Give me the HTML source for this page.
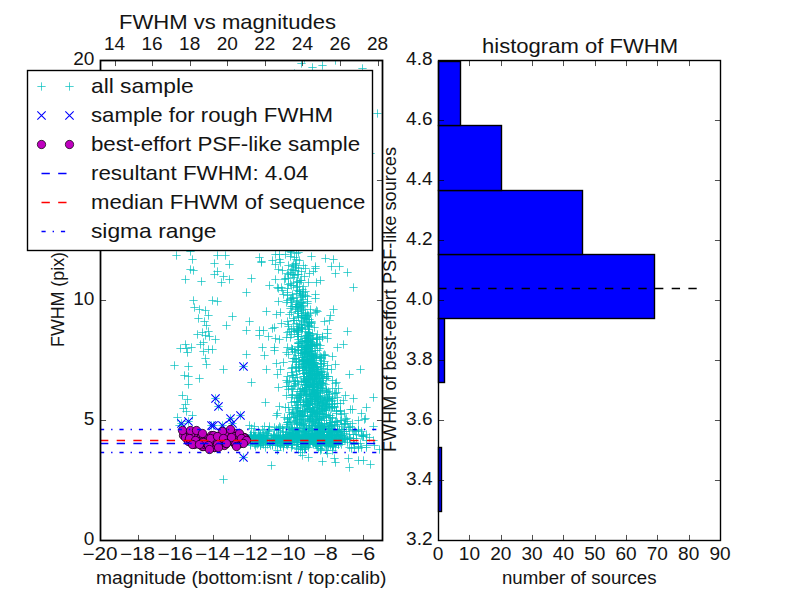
<!DOCTYPE html><html><head><meta charset="utf-8"><style>html,body{margin:0;padding:0;background:#fff;width:800px;height:600px;overflow:hidden}svg{display:block}text{font-family:"Liberation Sans",sans-serif;fill:#141414}</style></head><body>
<svg width="800" height="600" viewBox="0 0 800 600">
<rect x="0" y="0" width="800" height="600" fill="#fff"/>
<clipPath id="cl"><rect x="100.0" y="60.0" width="281.82" height="480.0"/></clipPath>
<g clip-path="url(#cl)">
<g stroke="#00bfbf" stroke-width="0.7" fill="none">
<path d="M172.33 255.5h8.34M176.5 251.33v8.34"/>
<path d="M188.33 259.5h8.34M192.5 255.33v8.34"/>
<path d="M186.33 251.5h8.34M190.5 247.33v8.34"/>
<path d="M213.33 255.5h8.34M217.5 251.33v8.34"/>
<path d="M221.33 255.5h8.34M225.5 251.33v8.34"/>
<path d="M210.33 263.5h8.34M214.5 259.33v8.34"/>
<path d="M225.33 264.5h8.34M229.5 260.33v8.34"/>
<path d="M255.33 257.5h8.34M259.5 253.33v8.34"/>
<path d="M257.33 261.5h8.34M261.5 257.33v8.34"/>
<path d="M271.33 254.5h8.34M275.5 250.33v8.34"/>
<path d="M268.33 260.5h8.34M272.5 256.33v8.34"/>
<path d="M271.33 264.5h8.34M275.5 260.33v8.34"/>
<path d="M274.33 269.5h8.34M278.5 265.33v8.34"/>
<path d="M186.33 269.5h8.34M190.5 265.33v8.34"/>
<path d="M189.33 270.5h8.34M193.5 266.33v8.34"/>
<path d="M181.33 279.5h8.34M185.5 275.33v8.34"/>
<path d="M197.33 281.5h8.34M201.5 277.33v8.34"/>
<path d="M210.33 274.5h8.34M214.5 270.33v8.34"/>
<path d="M213.33 271.5h8.34M217.5 267.33v8.34"/>
<path d="M219.33 276.5h8.34M223.5 272.33v8.34"/>
<path d="M225.33 279.5h8.34M229.5 275.33v8.34"/>
<path d="M217.33 282.5h8.34M221.5 278.33v8.34"/>
<path d="M247.33 278.5h8.34M251.5 274.33v8.34"/>
<path d="M242.33 292.5h8.34M246.5 288.33v8.34"/>
<path d="M271.33 279.5h8.34M275.5 275.33v8.34"/>
<path d="M274.33 288.5h8.34M278.5 284.33v8.34"/>
<path d="M189.33 300.5h8.34M193.5 296.33v8.34"/>
<path d="M208.33 300.5h8.34M212.5 296.33v8.34"/>
<path d="M213.33 301.5h8.34M217.5 297.33v8.34"/>
<path d="M190.33 307.5h8.34M194.5 303.33v8.34"/>
<path d="M195.33 309.5h8.34M199.5 305.33v8.34"/>
<path d="M201.33 310.5h8.34M205.5 306.33v8.34"/>
<path d="M204.33 315.5h8.34M208.5 311.33v8.34"/>
<path d="M194.33 318.5h8.34M198.5 314.33v8.34"/>
<path d="M200.33 321.5h8.34M204.5 317.33v8.34"/>
<path d="M202.33 325.5h8.34M206.5 321.33v8.34"/>
<path d="M228.33 316.5h8.34M232.5 312.33v8.34"/>
<path d="M222.33 325.5h8.34M226.5 321.33v8.34"/>
<path d="M245.33 321.5h8.34M249.5 317.33v8.34"/>
<path d="M262.33 311.5h8.34M266.5 307.33v8.34"/>
<path d="M272.33 314.5h8.34M276.5 310.33v8.34"/>
<path d="M270.33 327.5h8.34M274.5 323.33v8.34"/>
<path d="M193.33 334.5h8.34M197.5 330.33v8.34"/>
<path d="M198.33 332.5h8.34M202.5 328.33v8.34"/>
<path d="M201.33 335.5h8.34M205.5 331.33v8.34"/>
<path d="M204.33 331.5h8.34M208.5 327.33v8.34"/>
<path d="M205.33 336.5h8.34M209.5 332.33v8.34"/>
<path d="M211.33 339.5h8.34M215.5 335.33v8.34"/>
<path d="M242.33 330.5h8.34M246.5 326.33v8.34"/>
<path d="M255.33 330.5h8.34M259.5 326.33v8.34"/>
<path d="M255.33 335.5h8.34M259.5 331.33v8.34"/>
<path d="M264.33 336.5h8.34M268.5 332.33v8.34"/>
<path d="M271.33 338.5h8.34M275.5 334.33v8.34"/>
<path d="M270.33 347.5h8.34M274.5 343.33v8.34"/>
<path d="M258.33 347.5h8.34M262.5 343.33v8.34"/>
<path d="M260.33 355.5h8.34M264.5 351.33v8.34"/>
<path d="M242.33 354.5h8.34M246.5 350.33v8.34"/>
<path d="M176.33 348.5h8.34M180.5 344.33v8.34"/>
<path d="M181.33 344.5h8.34M185.5 340.33v8.34"/>
<path d="M182.33 348.5h8.34M186.5 344.33v8.34"/>
<path d="M187.33 347.5h8.34M191.5 343.33v8.34"/>
<path d="M183.33 352.5h8.34M187.5 348.33v8.34"/>
<path d="M196.33 344.5h8.34M200.5 340.33v8.34"/>
<path d="M199.33 342.5h8.34M203.5 338.33v8.34"/>
<path d="M199.33 351.5h8.34M203.5 347.33v8.34"/>
<path d="M204.33 349.5h8.34M208.5 345.33v8.34"/>
<path d="M208.33 349.5h8.34M212.5 345.33v8.34"/>
<path d="M201.33 358.5h8.34M205.5 354.33v8.34"/>
<path d="M202.33 364.5h8.34M206.5 360.33v8.34"/>
<path d="M170.33 365.5h8.34M174.5 361.33v8.34"/>
<path d="M184.33 366.5h8.34M188.5 362.33v8.34"/>
<path d="M219.33 369.5h8.34M223.5 365.33v8.34"/>
<path d="M262.33 369.5h8.34M266.5 365.33v8.34"/>
<path d="M273.33 374.5h8.34M277.5 370.33v8.34"/>
<path d="M180.33 375.5h8.34M184.5 371.33v8.34"/>
<path d="M184.33 376.5h8.34M188.5 372.33v8.34"/>
<path d="M195.33 378.5h8.34M199.5 374.33v8.34"/>
<path d="M184.33 384.5h8.34M188.5 380.33v8.34"/>
<path d="M247.33 382.5h8.34M251.5 378.33v8.34"/>
<path d="M178.33 395.5h8.34M182.5 391.33v8.34"/>
<path d="M183.33 399.5h8.34M187.5 395.33v8.34"/>
<path d="M181.33 404.5h8.34M185.5 400.33v8.34"/>
<path d="M261.33 402.5h8.34M265.5 398.33v8.34"/>
<path d="M274.33 387.5h8.34M278.5 383.33v8.34"/>
<path d="M179.33 408.5h8.34M183.5 404.33v8.34"/>
<path d="M182.33 411.5h8.34M186.5 407.33v8.34"/>
<path d="M173.33 417.5h8.34M177.5 413.33v8.34"/>
<path d="M188.33 415.5h8.34M192.5 411.33v8.34"/>
<path d="M321.33 258.5h8.34M325.5 254.33v8.34"/>
<path d="M329.33 259.5h8.34M333.5 255.33v8.34"/>
<path d="M327.33 266.5h8.34M331.5 262.33v8.34"/>
<path d="M335.33 266.5h8.34M339.5 262.33v8.34"/>
<path d="M331.33 273.5h8.34M335.5 269.33v8.34"/>
<path d="M343.33 272.5h8.34M347.5 268.33v8.34"/>
<path d="M349.33 287.5h8.34M353.5 283.33v8.34"/>
<path d="M311.33 266.5h8.34M315.5 262.33v8.34"/>
<path d="M309.33 271.5h8.34M313.5 267.33v8.34"/>
<path d="M312.33 282.5h8.34M316.5 278.33v8.34"/>
<path d="M311.33 294.5h8.34M315.5 290.33v8.34"/>
<path d="M311.33 298.5h8.34M315.5 294.33v8.34"/>
<path d="M329.33 309.5h8.34M333.5 305.33v8.34"/>
<path d="M326.33 315.5h8.34M330.5 311.33v8.34"/>
<path d="M320.33 321.5h8.34M324.5 317.33v8.34"/>
<path d="M311.33 312.5h8.34M315.5 308.33v8.34"/>
<path d="M297.33 63.5h8.34M301.5 59.33v8.34"/>
<path d="M308.33 67.5h8.34M312.5 63.33v8.34"/>
<path d="M318.33 65.5h8.34M322.5 61.33v8.34"/>
<path d="M358.33 68.5h8.34M362.5 64.33v8.34"/>
<path d="M290.33 73.5h8.34M294.5 69.33v8.34"/>
<path d="M300.33 58.5h8.34M304.5 54.33v8.34"/>
<path d="M331.33 60.5h8.34M335.5 56.33v8.34"/>
<path d="M373.33 113.5h8.34M377.5 109.33v8.34"/>
<path d="M366.33 153.5h8.34M370.5 149.33v8.34"/>
<path d="M343.33 331.5h8.34M347.5 327.33v8.34"/>
<path d="M339.33 344.5h8.34M343.5 340.33v8.34"/>
<path d="M333.33 347.5h8.34M337.5 343.33v8.34"/>
<path d="M331.33 364.5h8.34M335.5 360.33v8.34"/>
<path d="M356.33 369.5h8.34M360.5 365.33v8.34"/>
<path d="M331.33 383.5h8.34M335.5 379.33v8.34"/>
<path d="M369.33 397.5h8.34M373.5 393.33v8.34"/>
<path d="M362.33 407.5h8.34M366.5 403.33v8.34"/>
<path d="M349.33 398.5h8.34M353.5 394.33v8.34"/>
<path d="M341.33 395.5h8.34M345.5 391.33v8.34"/>
<path d="M323.33 338.5h8.34M327.5 334.33v8.34"/>
<path d="M323.33 329.5h8.34M327.5 325.33v8.34"/>
<path d="M324.33 376.5h8.34M328.5 372.33v8.34"/>
<path d="M279.33 362.5h8.34M283.5 358.33v8.34"/>
<path d="M281.33 407.5h8.34M285.5 403.33v8.34"/>
<path d="M267.33 465.5h8.34M271.5 461.33v8.34"/>
<path d="M219.33 479.5h8.34M223.5 475.33v8.34"/>
<path d="M318.33 461.5h8.34M322.5 457.33v8.34"/>
<path d="M330.33 458.5h8.34M334.5 454.33v8.34"/>
<path d="M331.33 462.5h8.34M335.5 458.33v8.34"/>
<path d="M345.33 467.5h8.34M349.5 463.33v8.34"/>
<path d="M366.33 464.5h8.34M370.5 460.33v8.34"/>
<path d="M354.33 460.5h8.34M358.5 456.33v8.34"/>
<path d="M298.33 455.5h8.34M302.5 451.33v8.34"/>
<path d="M304.33 457.5h8.34M308.5 453.33v8.34"/>
<path d="M344.33 458.5h8.34M348.5 454.33v8.34"/>
<path d="M369.33 426.5h8.34M373.5 422.33v8.34"/>
<path d="M354.33 420.5h8.34M358.5 416.33v8.34"/>
<path d="M348.33 409.5h8.34M352.5 405.33v8.34"/>
<path d="M357.33 447.5h8.34M361.5 443.33v8.34"/>
<path d="M362.33 445.5h8.34M366.5 441.33v8.34"/>
<path d="M370.33 445.5h8.34M374.5 441.33v8.34"/>
<path d="M369.33 440.5h8.34M373.5 436.33v8.34"/>
<path d="M245.33 425.5h8.34M249.5 421.33v8.34"/>
<path d="M250.33 426.5h8.34M254.5 422.33v8.34"/>
<path d="M260.33 426.5h8.34M264.5 422.33v8.34"/>
<path d="M265.33 426.5h8.34M269.5 422.33v8.34"/>
<path d="M273.33 413.5h8.34M277.5 409.33v8.34"/>
<path d="M275.33 254.5h8.34M279.5 250.33v8.34"/>
<path d="M278.33 270.5h8.34M282.5 266.33v8.34"/>
<path d="M278.33 290.5h8.34M282.5 286.33v8.34"/>
<path d="M284.33 265.5h8.34M288.5 261.33v8.34"/>
<path d="M288.33 266.5h8.34M292.5 262.33v8.34"/>
<path d="M292.33 259.5h8.34M296.5 255.33v8.34"/>
<path d="M294.33 252.5h8.34M298.5 248.33v8.34"/>
<path d="M299.33 265.5h8.34M303.5 261.33v8.34"/>
<path d="M301.33 268.5h8.34M305.5 264.33v8.34"/>
<path d="M297.33 271.5h8.34M301.5 267.33v8.34"/>
<path d="M291.33 270.5h8.34M295.5 266.33v8.34"/>
<path d="M288.33 274.5h8.34M292.5 270.33v8.34"/>
<path d="M293.33 274.5h8.34M297.5 270.33v8.34"/>
<path d="M281.33 278.5h8.34M285.5 274.33v8.34"/>
<path d="M292.33 282.5h8.34M296.5 278.33v8.34"/>
<path d="M296.33 280.5h8.34M300.5 276.33v8.34"/>
<path d="M289.33 285.5h8.34M293.5 281.33v8.34"/>
<path d="M292.33 287.5h8.34M296.5 283.33v8.34"/>
<path d="M299.33 286.5h8.34M303.5 282.33v8.34"/>
<path d="M304.33 282.5h8.34M308.5 278.33v8.34"/>
<path d="M305.33 273.5h8.34M309.5 269.33v8.34"/>
<path d="M283.33 292.5h8.34M287.5 288.33v8.34"/>
<path d="M288.33 294.5h8.34M292.5 290.33v8.34"/>
<path d="M292.33 293.5h8.34M296.5 289.33v8.34"/>
<path d="M296.33 295.5h8.34M300.5 291.33v8.34"/>
<path d="M301.33 295.5h8.34M305.5 291.33v8.34"/>
<path d="M282.33 302.5h8.34M286.5 298.33v8.34"/>
<path d="M287.33 298.5h8.34M291.5 294.33v8.34"/>
<path d="M293.33 300.5h8.34M297.5 296.33v8.34"/>
<path d="M298.33 302.5h8.34M302.5 298.33v8.34"/>
<path d="M293.33 306.5h8.34M297.5 302.33v8.34"/>
<path d="M288.33 306.5h8.34M292.5 302.33v8.34"/>
<path d="M303.33 303.5h8.34M307.5 299.33v8.34"/>
<path d="M287.33 252.5h8.34M291.5 248.33v8.34"/>
<path d="M276.33 312.5h8.34M280.5 308.33v8.34"/>
<path d="M306.33 309.5h8.34M310.5 305.33v8.34"/>
<path d="M277.33 323.5h8.34M281.5 319.33v8.34"/>
<path d="M259.33 330.5h8.34M263.5 326.33v8.34"/>
<path d="M275.33 339.5h8.34M279.5 335.33v8.34"/>
<path d="M318.33 336.5h8.34M322.5 332.33v8.34"/>
<path d="M270.33 350.5h8.34M274.5 346.33v8.34"/>
<path d="M283.33 347.5h8.34M287.5 343.33v8.34"/>
<path d="M316.33 345.5h8.34M320.5 341.33v8.34"/>
<path d="M317.33 357.5h8.34M321.5 353.33v8.34"/>
<path d="M320.33 361.5h8.34M324.5 357.33v8.34"/>
<path d="M361.33 418.5h8.34M365.5 414.33v8.34"/>
<path d="M359.33 460.5h8.34M363.5 456.33v8.34"/>
<path d="M375.33 449.5h8.34M379.5 445.33v8.34"/>
<path d="M359.33 436.5h8.34M363.5 432.33v8.34"/>
<path d="M175.33 425.5h8.34M179.5 421.33v8.34"/>
<path d="M286.33 251.5h8.34M290.5 247.33v8.34"/>
<path d="M292.33 253.5h8.34M296.5 249.33v8.34"/>
<path d="M281.33 254.5h8.34M285.5 250.33v8.34"/>
<path d="M286.33 256.5h8.34M290.5 252.33v8.34"/>
<path d="M307.33 256.5h8.34M311.5 252.33v8.34"/>
<path d="M290.33 257.5h8.34M294.5 253.33v8.34"/>
<path d="M275.33 259.5h8.34M279.5 255.33v8.34"/>
<path d="M295.33 260.5h8.34M299.5 256.33v8.34"/>
<path d="M276.33 262.5h8.34M280.5 258.33v8.34"/>
<path d="M257.33 262.5h8.34M261.5 258.33v8.34"/>
<path d="M291.33 263.5h8.34M295.5 259.33v8.34"/>
<path d="M289.33 264.5h8.34M293.5 260.33v8.34"/>
<path d="M291.33 265.5h8.34M295.5 261.33v8.34"/>
<path d="M292.33 267.5h8.34M296.5 263.33v8.34"/>
<path d="M294.33 268.5h8.34M298.5 264.33v8.34"/>
<path d="M311.33 268.5h8.34M315.5 264.33v8.34"/>
<path d="M287.33 269.5h8.34M291.5 265.33v8.34"/>
<path d="M289.33 270.5h8.34M293.5 266.33v8.34"/>
<path d="M286.33 272.5h8.34M290.5 268.33v8.34"/>
<path d="M283.33 273.5h8.34M287.5 269.33v8.34"/>
<path d="M284.33 274.5h8.34M288.5 270.33v8.34"/>
<path d="M294.33 274.5h8.34M298.5 270.33v8.34"/>
<path d="M290.33 275.5h8.34M294.5 271.33v8.34"/>
<path d="M300.33 276.5h8.34M304.5 272.33v8.34"/>
<path d="M289.33 277.5h8.34M293.5 273.33v8.34"/>
<path d="M284.33 278.5h8.34M288.5 274.33v8.34"/>
<path d="M280.33 279.5h8.34M284.5 275.33v8.34"/>
<path d="M297.33 280.5h8.34M301.5 276.33v8.34"/>
<path d="M316.33 280.5h8.34M320.5 276.33v8.34"/>
<path d="M293.33 281.5h8.34M297.5 277.33v8.34"/>
<path d="M295.33 282.5h8.34M299.5 278.33v8.34"/>
<path d="M286.33 283.5h8.34M290.5 279.33v8.34"/>
<path d="M284.33 284.5h8.34M288.5 280.33v8.34"/>
<path d="M287.33 285.5h8.34M291.5 281.33v8.34"/>
<path d="M265.33 285.5h8.34M269.5 281.33v8.34"/>
<path d="M293.33 286.5h8.34M297.5 282.33v8.34"/>
<path d="M277.33 287.5h8.34M281.5 283.33v8.34"/>
<path d="M273.33 287.5h8.34M277.5 283.33v8.34"/>
<path d="M283.33 288.5h8.34M287.5 284.33v8.34"/>
<path d="M298.33 289.5h8.34M302.5 285.33v8.34"/>
<path d="M293.33 290.5h8.34M297.5 286.33v8.34"/>
<path d="M295.33 291.5h8.34M299.5 287.33v8.34"/>
<path d="M295.33 291.5h8.34M299.5 287.33v8.34"/>
<path d="M301.33 291.5h8.34M305.5 287.33v8.34"/>
<path d="M299.33 292.5h8.34M303.5 288.33v8.34"/>
<path d="M296.33 293.5h8.34M300.5 289.33v8.34"/>
<path d="M298.33 294.5h8.34M302.5 290.33v8.34"/>
<path d="M279.33 294.5h8.34M283.5 290.33v8.34"/>
<path d="M283.33 295.5h8.34M287.5 291.33v8.34"/>
<path d="M303.33 296.5h8.34M307.5 292.33v8.34"/>
<path d="M298.33 296.5h8.34M302.5 292.33v8.34"/>
<path d="M297.33 297.5h8.34M301.5 293.33v8.34"/>
<path d="M288.33 297.5h8.34M292.5 293.33v8.34"/>
<path d="M289.33 298.5h8.34M293.5 294.33v8.34"/>
<path d="M286.33 299.5h8.34M290.5 295.33v8.34"/>
<path d="M299.33 299.5h8.34M303.5 295.33v8.34"/>
<path d="M283.33 300.5h8.34M287.5 296.33v8.34"/>
<path d="M292.33 301.5h8.34M296.5 297.33v8.34"/>
<path d="M303.33 301.5h8.34M307.5 297.33v8.34"/>
<path d="M274.33 301.5h8.34M278.5 297.33v8.34"/>
<path d="M287.33 302.5h8.34M291.5 298.33v8.34"/>
<path d="M297.33 302.5h8.34M301.5 298.33v8.34"/>
<path d="M296.33 303.5h8.34M300.5 299.33v8.34"/>
<path d="M294.33 304.5h8.34M298.5 300.33v8.34"/>
<path d="M292.33 304.5h8.34M296.5 300.33v8.34"/>
<path d="M295.33 305.5h8.34M299.5 301.33v8.34"/>
<path d="M299.33 305.5h8.34M303.5 301.33v8.34"/>
<path d="M298.33 306.5h8.34M302.5 302.33v8.34"/>
<path d="M291.33 306.5h8.34M295.5 302.33v8.34"/>
<path d="M287.33 306.5h8.34M291.5 302.33v8.34"/>
<path d="M292.33 307.5h8.34M296.5 303.33v8.34"/>
<path d="M297.33 307.5h8.34M301.5 303.33v8.34"/>
<path d="M286.33 308.5h8.34M290.5 304.33v8.34"/>
<path d="M296.33 308.5h8.34M300.5 304.33v8.34"/>
<path d="M291.33 309.5h8.34M295.5 305.33v8.34"/>
<path d="M299.33 309.5h8.34M303.5 305.33v8.34"/>
<path d="M312.33 310.5h8.34M316.5 306.33v8.34"/>
<path d="M297.33 310.5h8.34M301.5 306.33v8.34"/>
<path d="M293.33 311.5h8.34M297.5 307.33v8.34"/>
<path d="M294.33 311.5h8.34M298.5 307.33v8.34"/>
<path d="M313.33 311.5h8.34M317.5 307.33v8.34"/>
<path d="M287.33 312.5h8.34M291.5 308.33v8.34"/>
<path d="M301.33 312.5h8.34M305.5 308.33v8.34"/>
<path d="M306.33 313.5h8.34M310.5 309.33v8.34"/>
<path d="M293.33 313.5h8.34M297.5 309.33v8.34"/>
<path d="M299.33 313.5h8.34M303.5 309.33v8.34"/>
<path d="M303.33 314.5h8.34M307.5 310.33v8.34"/>
<path d="M285.33 314.5h8.34M289.5 310.33v8.34"/>
<path d="M297.33 315.5h8.34M301.5 311.33v8.34"/>
<path d="M304.33 315.5h8.34M308.5 311.33v8.34"/>
<path d="M301.33 315.5h8.34M305.5 311.33v8.34"/>
<path d="M298.33 315.5h8.34M302.5 311.33v8.34"/>
<path d="M303.33 316.5h8.34M307.5 312.33v8.34"/>
<path d="M294.33 316.5h8.34M298.5 312.33v8.34"/>
<path d="M302.33 317.5h8.34M306.5 313.33v8.34"/>
<path d="M294.33 317.5h8.34M298.5 313.33v8.34"/>
<path d="M297.33 317.5h8.34M301.5 313.33v8.34"/>
<path d="M301.33 318.5h8.34M305.5 314.33v8.34"/>
<path d="M300.33 318.5h8.34M304.5 314.33v8.34"/>
<path d="M289.33 318.5h8.34M293.5 314.33v8.34"/>
<path d="M305.33 319.5h8.34M309.5 315.33v8.34"/>
<path d="M302.33 319.5h8.34M306.5 315.33v8.34"/>
<path d="M297.33 320.5h8.34M301.5 316.33v8.34"/>
<path d="M289.33 320.5h8.34M293.5 316.33v8.34"/>
<path d="M290.33 320.5h8.34M294.5 316.33v8.34"/>
<path d="M325.33 320.5h8.34M329.5 316.33v8.34"/>
<path d="M283.33 321.5h8.34M287.5 317.33v8.34"/>
<path d="M307.33 321.5h8.34M311.5 317.33v8.34"/>
<path d="M299.33 321.5h8.34M303.5 317.33v8.34"/>
<path d="M300.33 322.5h8.34M304.5 318.33v8.34"/>
<path d="M305.33 322.5h8.34M309.5 318.33v8.34"/>
<path d="M307.33 322.5h8.34M311.5 318.33v8.34"/>
<path d="M292.33 323.5h8.34M296.5 319.33v8.34"/>
<path d="M304.33 323.5h8.34M308.5 319.33v8.34"/>
<path d="M307.33 323.5h8.34M311.5 319.33v8.34"/>
<path d="M295.33 324.5h8.34M299.5 320.33v8.34"/>
<path d="M284.33 324.5h8.34M288.5 320.33v8.34"/>
<path d="M303.33 324.5h8.34M307.5 320.33v8.34"/>
<path d="M297.33 324.5h8.34M301.5 320.33v8.34"/>
<path d="M303.33 325.5h8.34M307.5 321.33v8.34"/>
<path d="M297.33 325.5h8.34M301.5 321.33v8.34"/>
<path d="M305.33 325.5h8.34M309.5 321.33v8.34"/>
<path d="M293.33 326.5h8.34M297.5 322.33v8.34"/>
<path d="M304.33 326.5h8.34M308.5 322.33v8.34"/>
<path d="M284.33 326.5h8.34M288.5 322.33v8.34"/>
<path d="M305.33 326.5h8.34M309.5 322.33v8.34"/>
<path d="M297.33 327.5h8.34M301.5 323.33v8.34"/>
<path d="M298.33 327.5h8.34M302.5 323.33v8.34"/>
<path d="M310.33 327.5h8.34M314.5 323.33v8.34"/>
<path d="M298.33 328.5h8.34M302.5 324.33v8.34"/>
<path d="M297.33 328.5h8.34M301.5 324.33v8.34"/>
<path d="M289.33 328.5h8.34M293.5 324.33v8.34"/>
<path d="M268.33 328.5h8.34M272.5 324.33v8.34"/>
<path d="M294.33 329.5h8.34M298.5 325.33v8.34"/>
<path d="M298.33 329.5h8.34M302.5 325.33v8.34"/>
<path d="M304.33 329.5h8.34M308.5 325.33v8.34"/>
<path d="M287.33 329.5h8.34M291.5 325.33v8.34"/>
<path d="M294.33 330.5h8.34M298.5 326.33v8.34"/>
<path d="M292.33 330.5h8.34M296.5 326.33v8.34"/>
<path d="M293.33 330.5h8.34M297.5 326.33v8.34"/>
<path d="M290.33 331.5h8.34M294.5 327.33v8.34"/>
<path d="M301.33 331.5h8.34M305.5 327.33v8.34"/>
<path d="M294.33 331.5h8.34M298.5 327.33v8.34"/>
<path d="M285.33 331.5h8.34M289.5 327.33v8.34"/>
<path d="M283.33 332.5h8.34M287.5 328.33v8.34"/>
<path d="M293.33 332.5h8.34M297.5 328.33v8.34"/>
<path d="M304.33 332.5h8.34M308.5 328.33v8.34"/>
<path d="M304.33 332.5h8.34M308.5 328.33v8.34"/>
<path d="M308.33 333.5h8.34M312.5 329.33v8.34"/>
<path d="M304.33 333.5h8.34M308.5 329.33v8.34"/>
<path d="M305.33 333.5h8.34M309.5 329.33v8.34"/>
<path d="M323.33 333.5h8.34M327.5 329.33v8.34"/>
<path d="M313.33 334.5h8.34M317.5 330.33v8.34"/>
<path d="M287.33 334.5h8.34M291.5 330.33v8.34"/>
<path d="M293.33 334.5h8.34M297.5 330.33v8.34"/>
<path d="M304.33 334.5h8.34M308.5 330.33v8.34"/>
<path d="M303.33 335.5h8.34M307.5 331.33v8.34"/>
<path d="M306.33 335.5h8.34M310.5 331.33v8.34"/>
<path d="M302.33 335.5h8.34M306.5 331.33v8.34"/>
<path d="M305.33 335.5h8.34M309.5 331.33v8.34"/>
<path d="M293.33 336.5h8.34M297.5 332.33v8.34"/>
<path d="M297.33 336.5h8.34M301.5 332.33v8.34"/>
<path d="M294.33 336.5h8.34M298.5 332.33v8.34"/>
<path d="M294.33 336.5h8.34M298.5 332.33v8.34"/>
<path d="M304.33 336.5h8.34M308.5 332.33v8.34"/>
<path d="M282.33 337.5h8.34M286.5 333.33v8.34"/>
<path d="M312.33 337.5h8.34M316.5 333.33v8.34"/>
<path d="M303.33 337.5h8.34M307.5 333.33v8.34"/>
<path d="M286.33 337.5h8.34M290.5 333.33v8.34"/>
<path d="M318.33 337.5h8.34M322.5 333.33v8.34"/>
<path d="M309.33 338.5h8.34M313.5 334.33v8.34"/>
<path d="M313.33 338.5h8.34M317.5 334.33v8.34"/>
<path d="M302.33 338.5h8.34M306.5 334.33v8.34"/>
<path d="M301.33 338.5h8.34M305.5 334.33v8.34"/>
<path d="M315.33 339.5h8.34M319.5 335.33v8.34"/>
<path d="M308.33 339.5h8.34M312.5 335.33v8.34"/>
<path d="M312.33 339.5h8.34M316.5 335.33v8.34"/>
<path d="M307.33 339.5h8.34M311.5 335.33v8.34"/>
<path d="M294.33 339.5h8.34M298.5 335.33v8.34"/>
<path d="M302.33 340.5h8.34M306.5 336.33v8.34"/>
<path d="M300.33 340.5h8.34M304.5 336.33v8.34"/>
<path d="M304.33 340.5h8.34M308.5 336.33v8.34"/>
<path d="M304.33 340.5h8.34M308.5 336.33v8.34"/>
<path d="M303.33 341.5h8.34M307.5 337.33v8.34"/>
<path d="M298.33 341.5h8.34M302.5 337.33v8.34"/>
<path d="M306.33 341.5h8.34M310.5 337.33v8.34"/>
<path d="M296.33 341.5h8.34M300.5 337.33v8.34"/>
<path d="M301.33 341.5h8.34M305.5 337.33v8.34"/>
<path d="M301.33 341.5h8.34M305.5 337.33v8.34"/>
<path d="M302.33 342.5h8.34M306.5 338.33v8.34"/>
<path d="M304.33 342.5h8.34M308.5 338.33v8.34"/>
<path d="M308.33 342.5h8.34M312.5 338.33v8.34"/>
<path d="M304.33 342.5h8.34M308.5 338.33v8.34"/>
<path d="M294.33 342.5h8.34M298.5 338.33v8.34"/>
<path d="M294.33 343.5h8.34M298.5 339.33v8.34"/>
<path d="M306.33 343.5h8.34M310.5 339.33v8.34"/>
<path d="M294.33 343.5h8.34M298.5 339.33v8.34"/>
<path d="M312.33 343.5h8.34M316.5 339.33v8.34"/>
<path d="M295.33 343.5h8.34M299.5 339.33v8.34"/>
<path d="M305.33 344.5h8.34M309.5 340.33v8.34"/>
<path d="M312.33 344.5h8.34M316.5 340.33v8.34"/>
<path d="M306.33 344.5h8.34M310.5 340.33v8.34"/>
<path d="M313.33 344.5h8.34M317.5 340.33v8.34"/>
<path d="M308.33 344.5h8.34M312.5 340.33v8.34"/>
<path d="M300.33 345.5h8.34M304.5 341.33v8.34"/>
<path d="M307.33 345.5h8.34M311.5 341.33v8.34"/>
<path d="M306.33 345.5h8.34M310.5 341.33v8.34"/>
<path d="M308.33 345.5h8.34M312.5 341.33v8.34"/>
<path d="M310.33 345.5h8.34M314.5 341.33v8.34"/>
<path d="M297.33 345.5h8.34M301.5 341.33v8.34"/>
<path d="M299.33 346.5h8.34M303.5 342.33v8.34"/>
<path d="M308.33 346.5h8.34M312.5 342.33v8.34"/>
<path d="M293.33 346.5h8.34M297.5 342.33v8.34"/>
<path d="M303.33 346.5h8.34M307.5 342.33v8.34"/>
<path d="M307.33 346.5h8.34M311.5 342.33v8.34"/>
<path d="M302.33 347.5h8.34M306.5 343.33v8.34"/>
<path d="M303.33 347.5h8.34M307.5 343.33v8.34"/>
<path d="M302.33 347.5h8.34M306.5 343.33v8.34"/>
<path d="M294.33 347.5h8.34M298.5 343.33v8.34"/>
<path d="M297.33 347.5h8.34M301.5 343.33v8.34"/>
<path d="M298.33 347.5h8.34M302.5 343.33v8.34"/>
<path d="M287.33 348.5h8.34M291.5 344.33v8.34"/>
<path d="M306.33 348.5h8.34M310.5 344.33v8.34"/>
<path d="M301.33 348.5h8.34M305.5 344.33v8.34"/>
<path d="M315.33 348.5h8.34M319.5 344.33v8.34"/>
<path d="M306.33 348.5h8.34M310.5 344.33v8.34"/>
<path d="M300.33 349.5h8.34M304.5 345.33v8.34"/>
<path d="M288.33 349.5h8.34M292.5 345.33v8.34"/>
<path d="M288.33 349.5h8.34M292.5 345.33v8.34"/>
<path d="M301.33 349.5h8.34M305.5 345.33v8.34"/>
<path d="M288.33 349.5h8.34M292.5 345.33v8.34"/>
<path d="M294.33 349.5h8.34M298.5 345.33v8.34"/>
<path d="M302.33 349.5h8.34M306.5 345.33v8.34"/>
<path d="M304.33 350.5h8.34M308.5 346.33v8.34"/>
<path d="M313.33 350.5h8.34M317.5 346.33v8.34"/>
<path d="M311.33 350.5h8.34M315.5 346.33v8.34"/>
<path d="M294.33 350.5h8.34M298.5 346.33v8.34"/>
<path d="M294.33 350.5h8.34M298.5 346.33v8.34"/>
<path d="M306.33 351.5h8.34M310.5 347.33v8.34"/>
<path d="M290.33 351.5h8.34M294.5 347.33v8.34"/>
<path d="M301.33 351.5h8.34M305.5 347.33v8.34"/>
<path d="M300.33 351.5h8.34M304.5 347.33v8.34"/>
<path d="M307.33 351.5h8.34M311.5 347.33v8.34"/>
<path d="M305.33 351.5h8.34M309.5 347.33v8.34"/>
<path d="M301.33 352.5h8.34M305.5 348.33v8.34"/>
<path d="M282.33 352.5h8.34M286.5 348.33v8.34"/>
<path d="M291.33 352.5h8.34M295.5 348.33v8.34"/>
<path d="M304.33 352.5h8.34M308.5 348.33v8.34"/>
<path d="M300.33 352.5h8.34M304.5 348.33v8.34"/>
<path d="M300.33 352.5h8.34M304.5 348.33v8.34"/>
<path d="M302.33 352.5h8.34M306.5 348.33v8.34"/>
<path d="M296.33 353.5h8.34M300.5 349.33v8.34"/>
<path d="M308.33 353.5h8.34M312.5 349.33v8.34"/>
<path d="M305.33 353.5h8.34M309.5 349.33v8.34"/>
<path d="M300.33 353.5h8.34M304.5 349.33v8.34"/>
<path d="M297.33 353.5h8.34M301.5 349.33v8.34"/>
<path d="M299.33 353.5h8.34M303.5 349.33v8.34"/>
<path d="M303.33 354.5h8.34M307.5 350.33v8.34"/>
<path d="M320.33 354.5h8.34M324.5 350.33v8.34"/>
<path d="M300.33 354.5h8.34M304.5 350.33v8.34"/>
<path d="M311.33 354.5h8.34M315.5 350.33v8.34"/>
<path d="M284.33 354.5h8.34M288.5 350.33v8.34"/>
<path d="M307.33 354.5h8.34M311.5 350.33v8.34"/>
<path d="M321.33 355.5h8.34M325.5 351.33v8.34"/>
<path d="M309.33 355.5h8.34M313.5 351.33v8.34"/>
<path d="M310.33 355.5h8.34M314.5 351.33v8.34"/>
<path d="M307.33 355.5h8.34M311.5 351.33v8.34"/>
<path d="M294.33 355.5h8.34M298.5 351.33v8.34"/>
<path d="M305.33 355.5h8.34M309.5 351.33v8.34"/>
<path d="M319.33 355.5h8.34M323.5 351.33v8.34"/>
<path d="M312.33 356.5h8.34M316.5 352.33v8.34"/>
<path d="M303.33 356.5h8.34M307.5 352.33v8.34"/>
<path d="M307.33 356.5h8.34M311.5 352.33v8.34"/>
<path d="M308.33 356.5h8.34M312.5 352.33v8.34"/>
<path d="M316.33 356.5h8.34M320.5 352.33v8.34"/>
<path d="M303.33 356.5h8.34M307.5 352.33v8.34"/>
<path d="M328.33 356.5h8.34M332.5 352.33v8.34"/>
<path d="M298.33 357.5h8.34M302.5 353.33v8.34"/>
<path d="M298.33 357.5h8.34M302.5 353.33v8.34"/>
<path d="M309.33 357.5h8.34M313.5 353.33v8.34"/>
<path d="M298.33 357.5h8.34M302.5 353.33v8.34"/>
<path d="M309.33 357.5h8.34M313.5 353.33v8.34"/>
<path d="M315.33 357.5h8.34M319.5 353.33v8.34"/>
<path d="M312.33 358.5h8.34M316.5 354.33v8.34"/>
<path d="M303.33 358.5h8.34M307.5 354.33v8.34"/>
<path d="M309.33 358.5h8.34M313.5 354.33v8.34"/>
<path d="M289.33 358.5h8.34M293.5 354.33v8.34"/>
<path d="M317.33 358.5h8.34M321.5 354.33v8.34"/>
<path d="M291.33 358.5h8.34M295.5 354.33v8.34"/>
<path d="M290.33 358.5h8.34M294.5 354.33v8.34"/>
<path d="M303.33 359.5h8.34M307.5 355.33v8.34"/>
<path d="M301.33 359.5h8.34M305.5 355.33v8.34"/>
<path d="M304.33 359.5h8.34M308.5 355.33v8.34"/>
<path d="M292.33 359.5h8.34M296.5 355.33v8.34"/>
<path d="M307.33 359.5h8.34M311.5 355.33v8.34"/>
<path d="M302.33 359.5h8.34M306.5 355.33v8.34"/>
<path d="M299.33 359.5h8.34M303.5 355.33v8.34"/>
<path d="M316.33 360.5h8.34M320.5 356.33v8.34"/>
<path d="M300.33 360.5h8.34M304.5 356.33v8.34"/>
<path d="M298.33 360.5h8.34M302.5 356.33v8.34"/>
<path d="M306.33 360.5h8.34M310.5 356.33v8.34"/>
<path d="M308.33 360.5h8.34M312.5 356.33v8.34"/>
<path d="M298.33 360.5h8.34M302.5 356.33v8.34"/>
<path d="M304.33 360.5h8.34M308.5 356.33v8.34"/>
<path d="M299.33 361.5h8.34M303.5 357.33v8.34"/>
<path d="M305.33 361.5h8.34M309.5 357.33v8.34"/>
<path d="M302.33 361.5h8.34M306.5 357.33v8.34"/>
<path d="M307.33 361.5h8.34M311.5 357.33v8.34"/>
<path d="M288.33 361.5h8.34M292.5 357.33v8.34"/>
<path d="M297.33 361.5h8.34M301.5 357.33v8.34"/>
<path d="M295.33 361.5h8.34M299.5 357.33v8.34"/>
<path d="M309.33 362.5h8.34M313.5 358.33v8.34"/>
<path d="M310.33 362.5h8.34M314.5 358.33v8.34"/>
<path d="M306.33 362.5h8.34M310.5 358.33v8.34"/>
<path d="M292.33 362.5h8.34M296.5 358.33v8.34"/>
<path d="M304.33 362.5h8.34M308.5 358.33v8.34"/>
<path d="M303.33 362.5h8.34M307.5 358.33v8.34"/>
<path d="M310.33 362.5h8.34M314.5 358.33v8.34"/>
<path d="M319.33 363.5h8.34M323.5 359.33v8.34"/>
<path d="M299.33 363.5h8.34M303.5 359.33v8.34"/>
<path d="M317.33 363.5h8.34M321.5 359.33v8.34"/>
<path d="M307.33 363.5h8.34M311.5 359.33v8.34"/>
<path d="M304.33 363.5h8.34M308.5 359.33v8.34"/>
<path d="M304.33 363.5h8.34M308.5 359.33v8.34"/>
<path d="M311.33 363.5h8.34M315.5 359.33v8.34"/>
<path d="M272.33 363.5h8.34M276.5 359.33v8.34"/>
<path d="M308.33 364.5h8.34M312.5 360.33v8.34"/>
<path d="M307.33 364.5h8.34M311.5 360.33v8.34"/>
<path d="M316.33 364.5h8.34M320.5 360.33v8.34"/>
<path d="M299.33 364.5h8.34M303.5 360.33v8.34"/>
<path d="M294.33 364.5h8.34M298.5 360.33v8.34"/>
<path d="M307.33 364.5h8.34M311.5 360.33v8.34"/>
<path d="M306.33 364.5h8.34M310.5 360.33v8.34"/>
<path d="M323.33 365.5h8.34M327.5 361.33v8.34"/>
<path d="M309.33 365.5h8.34M313.5 361.33v8.34"/>
<path d="M309.33 365.5h8.34M313.5 361.33v8.34"/>
<path d="M307.33 365.5h8.34M311.5 361.33v8.34"/>
<path d="M306.33 365.5h8.34M310.5 361.33v8.34"/>
<path d="M300.33 365.5h8.34M304.5 361.33v8.34"/>
<path d="M308.33 365.5h8.34M312.5 361.33v8.34"/>
<path d="M301.33 366.5h8.34M305.5 362.33v8.34"/>
<path d="M313.33 366.5h8.34M317.5 362.33v8.34"/>
<path d="M311.33 366.5h8.34M315.5 362.33v8.34"/>
<path d="M298.33 366.5h8.34M302.5 362.33v8.34"/>
<path d="M317.33 366.5h8.34M321.5 362.33v8.34"/>
<path d="M301.33 366.5h8.34M305.5 362.33v8.34"/>
<path d="M292.33 366.5h8.34M296.5 362.33v8.34"/>
<path d="M305.33 367.5h8.34M309.5 363.33v8.34"/>
<path d="M295.33 367.5h8.34M299.5 363.33v8.34"/>
<path d="M288.33 367.5h8.34M292.5 363.33v8.34"/>
<path d="M300.33 367.5h8.34M304.5 363.33v8.34"/>
<path d="M312.33 367.5h8.34M316.5 363.33v8.34"/>
<path d="M309.33 367.5h8.34M313.5 363.33v8.34"/>
<path d="M291.33 367.5h8.34M295.5 363.33v8.34"/>
<path d="M312.33 367.5h8.34M316.5 363.33v8.34"/>
<path d="M302.33 367.5h8.34M306.5 363.33v8.34"/>
<path d="M307.33 368.5h8.34M311.5 364.33v8.34"/>
<path d="M319.33 368.5h8.34M323.5 364.33v8.34"/>
<path d="M299.33 368.5h8.34M303.5 364.33v8.34"/>
<path d="M305.33 368.5h8.34M309.5 364.33v8.34"/>
<path d="M294.33 368.5h8.34M298.5 364.33v8.34"/>
<path d="M287.33 368.5h8.34M291.5 364.33v8.34"/>
<path d="M310.33 368.5h8.34M314.5 364.33v8.34"/>
<path d="M327.33 369.5h8.34M331.5 365.33v8.34"/>
<path d="M313.33 369.5h8.34M317.5 365.33v8.34"/>
<path d="M308.33 369.5h8.34M312.5 365.33v8.34"/>
<path d="M302.33 369.5h8.34M306.5 365.33v8.34"/>
<path d="M276.33 369.5h8.34M280.5 365.33v8.34"/>
<path d="M313.33 369.5h8.34M317.5 365.33v8.34"/>
<path d="M323.33 369.5h8.34M327.5 365.33v8.34"/>
<path d="M301.33 370.5h8.34M305.5 366.33v8.34"/>
<path d="M298.33 370.5h8.34M302.5 366.33v8.34"/>
<path d="M305.33 370.5h8.34M309.5 366.33v8.34"/>
<path d="M306.33 370.5h8.34M310.5 366.33v8.34"/>
<path d="M309.33 370.5h8.34M313.5 366.33v8.34"/>
<path d="M304.33 370.5h8.34M308.5 366.33v8.34"/>
<path d="M295.33 370.5h8.34M299.5 366.33v8.34"/>
<path d="M318.33 371.5h8.34M322.5 367.33v8.34"/>
<path d="M314.33 371.5h8.34M318.5 367.33v8.34"/>
<path d="M308.33 371.5h8.34M312.5 367.33v8.34"/>
<path d="M308.33 371.5h8.34M312.5 367.33v8.34"/>
<path d="M313.33 371.5h8.34M317.5 367.33v8.34"/>
<path d="M292.33 371.5h8.34M296.5 367.33v8.34"/>
<path d="M314.33 371.5h8.34M318.5 367.33v8.34"/>
<path d="M308.33 371.5h8.34M312.5 367.33v8.34"/>
<path d="M307.33 371.5h8.34M311.5 367.33v8.34"/>
<path d="M305.33 372.5h8.34M309.5 368.33v8.34"/>
<path d="M287.33 372.5h8.34M291.5 368.33v8.34"/>
<path d="M317.33 372.5h8.34M321.5 368.33v8.34"/>
<path d="M302.33 372.5h8.34M306.5 368.33v8.34"/>
<path d="M302.33 372.5h8.34M306.5 368.33v8.34"/>
<path d="M312.33 372.5h8.34M316.5 368.33v8.34"/>
<path d="M316.33 372.5h8.34M320.5 368.33v8.34"/>
<path d="M299.33 373.5h8.34M303.5 369.33v8.34"/>
<path d="M306.33 373.5h8.34M310.5 369.33v8.34"/>
<path d="M315.33 373.5h8.34M319.5 369.33v8.34"/>
<path d="M300.33 373.5h8.34M304.5 369.33v8.34"/>
<path d="M310.33 373.5h8.34M314.5 369.33v8.34"/>
<path d="M311.33 373.5h8.34M315.5 369.33v8.34"/>
<path d="M303.33 373.5h8.34M307.5 369.33v8.34"/>
<path d="M312.33 373.5h8.34M316.5 369.33v8.34"/>
<path d="M292.33 374.5h8.34M296.5 370.33v8.34"/>
<path d="M302.33 374.5h8.34M306.5 370.33v8.34"/>
<path d="M313.33 374.5h8.34M317.5 370.33v8.34"/>
<path d="M310.33 374.5h8.34M314.5 370.33v8.34"/>
<path d="M320.33 374.5h8.34M324.5 370.33v8.34"/>
<path d="M317.33 374.5h8.34M321.5 370.33v8.34"/>
<path d="M308.33 374.5h8.34M312.5 370.33v8.34"/>
<path d="M345.33 374.5h8.34M349.5 370.33v8.34"/>
<path d="M288.33 375.5h8.34M292.5 371.33v8.34"/>
<path d="M315.33 375.5h8.34M319.5 371.33v8.34"/>
<path d="M312.33 375.5h8.34M316.5 371.33v8.34"/>
<path d="M307.33 375.5h8.34M311.5 371.33v8.34"/>
<path d="M315.33 375.5h8.34M319.5 371.33v8.34"/>
<path d="M306.33 375.5h8.34M310.5 371.33v8.34"/>
<path d="M288.33 375.5h8.34M292.5 371.33v8.34"/>
<path d="M310.33 375.5h8.34M314.5 371.33v8.34"/>
<path d="M299.33 376.5h8.34M303.5 372.33v8.34"/>
<path d="M305.33 376.5h8.34M309.5 372.33v8.34"/>
<path d="M300.33 376.5h8.34M304.5 372.33v8.34"/>
<path d="M317.33 376.5h8.34M321.5 372.33v8.34"/>
<path d="M322.33 376.5h8.34M326.5 372.33v8.34"/>
<path d="M283.33 376.5h8.34M287.5 372.33v8.34"/>
<path d="M323.33 376.5h8.34M327.5 372.33v8.34"/>
<path d="M311.33 376.5h8.34M315.5 372.33v8.34"/>
<path d="M293.33 377.5h8.34M297.5 373.33v8.34"/>
<path d="M289.33 377.5h8.34M293.5 373.33v8.34"/>
<path d="M309.33 377.5h8.34M313.5 373.33v8.34"/>
<path d="M314.33 377.5h8.34M318.5 373.33v8.34"/>
<path d="M308.33 377.5h8.34M312.5 373.33v8.34"/>
<path d="M318.33 377.5h8.34M322.5 373.33v8.34"/>
<path d="M304.33 377.5h8.34M308.5 373.33v8.34"/>
<path d="M313.33 378.5h8.34M317.5 374.33v8.34"/>
<path d="M299.33 378.5h8.34M303.5 374.33v8.34"/>
<path d="M310.33 378.5h8.34M314.5 374.33v8.34"/>
<path d="M305.33 378.5h8.34M309.5 374.33v8.34"/>
<path d="M308.33 378.5h8.34M312.5 374.33v8.34"/>
<path d="M315.33 378.5h8.34M319.5 374.33v8.34"/>
<path d="M306.33 378.5h8.34M310.5 374.33v8.34"/>
<path d="M319.33 378.5h8.34M323.5 374.33v8.34"/>
<path d="M322.33 378.5h8.34M326.5 374.33v8.34"/>
<path d="M307.33 379.5h8.34M311.5 375.33v8.34"/>
<path d="M304.33 379.5h8.34M308.5 375.33v8.34"/>
<path d="M312.33 379.5h8.34M316.5 375.33v8.34"/>
<path d="M310.33 379.5h8.34M314.5 375.33v8.34"/>
<path d="M308.33 379.5h8.34M312.5 375.33v8.34"/>
<path d="M304.33 379.5h8.34M308.5 375.33v8.34"/>
<path d="M303.33 379.5h8.34M307.5 375.33v8.34"/>
<path d="M300.33 379.5h8.34M304.5 375.33v8.34"/>
<path d="M311.33 380.5h8.34M315.5 376.33v8.34"/>
<path d="M302.33 380.5h8.34M306.5 376.33v8.34"/>
<path d="M318.33 380.5h8.34M322.5 376.33v8.34"/>
<path d="M328.33 380.5h8.34M332.5 376.33v8.34"/>
<path d="M282.33 380.5h8.34M286.5 376.33v8.34"/>
<path d="M306.33 380.5h8.34M310.5 376.33v8.34"/>
<path d="M300.33 380.5h8.34M304.5 376.33v8.34"/>
<path d="M291.33 380.5h8.34M295.5 376.33v8.34"/>
<path d="M315.33 381.5h8.34M319.5 377.33v8.34"/>
<path d="M301.33 381.5h8.34M305.5 377.33v8.34"/>
<path d="M308.33 381.5h8.34M312.5 377.33v8.34"/>
<path d="M293.33 381.5h8.34M297.5 377.33v8.34"/>
<path d="M290.33 381.5h8.34M294.5 377.33v8.34"/>
<path d="M299.33 381.5h8.34M303.5 377.33v8.34"/>
<path d="M315.33 381.5h8.34M319.5 377.33v8.34"/>
<path d="M285.33 381.5h8.34M289.5 377.33v8.34"/>
<path d="M301.33 381.5h8.34M305.5 377.33v8.34"/>
<path d="M316.33 382.5h8.34M320.5 378.33v8.34"/>
<path d="M283.33 382.5h8.34M287.5 378.33v8.34"/>
<path d="M332.33 382.5h8.34M336.5 378.33v8.34"/>
<path d="M297.33 382.5h8.34M301.5 378.33v8.34"/>
<path d="M316.33 382.5h8.34M320.5 378.33v8.34"/>
<path d="M302.33 382.5h8.34M306.5 378.33v8.34"/>
<path d="M309.33 382.5h8.34M313.5 378.33v8.34"/>
<path d="M302.33 382.5h8.34M306.5 378.33v8.34"/>
<path d="M291.33 383.5h8.34M295.5 379.33v8.34"/>
<path d="M318.33 383.5h8.34M322.5 379.33v8.34"/>
<path d="M309.33 383.5h8.34M313.5 379.33v8.34"/>
<path d="M317.33 383.5h8.34M321.5 379.33v8.34"/>
<path d="M312.33 383.5h8.34M316.5 379.33v8.34"/>
<path d="M312.33 383.5h8.34M316.5 379.33v8.34"/>
<path d="M319.33 383.5h8.34M323.5 379.33v8.34"/>
<path d="M310.33 383.5h8.34M314.5 379.33v8.34"/>
<path d="M310.33 384.5h8.34M314.5 380.33v8.34"/>
<path d="M303.33 384.5h8.34M307.5 380.33v8.34"/>
<path d="M301.33 384.5h8.34M305.5 380.33v8.34"/>
<path d="M301.33 384.5h8.34M305.5 380.33v8.34"/>
<path d="M294.33 384.5h8.34M298.5 380.33v8.34"/>
<path d="M314.33 384.5h8.34M318.5 380.33v8.34"/>
<path d="M321.33 384.5h8.34M325.5 380.33v8.34"/>
<path d="M309.33 384.5h8.34M313.5 380.33v8.34"/>
<path d="M310.33 384.5h8.34M314.5 380.33v8.34"/>
<path d="M290.33 385.5h8.34M294.5 381.33v8.34"/>
<path d="M303.33 385.5h8.34M307.5 381.33v8.34"/>
<path d="M308.33 385.5h8.34M312.5 381.33v8.34"/>
<path d="M317.33 385.5h8.34M321.5 381.33v8.34"/>
<path d="M313.33 385.5h8.34M317.5 381.33v8.34"/>
<path d="M305.33 385.5h8.34M309.5 381.33v8.34"/>
<path d="M304.33 385.5h8.34M308.5 381.33v8.34"/>
<path d="M304.33 385.5h8.34M308.5 381.33v8.34"/>
<path d="M307.33 386.5h8.34M311.5 382.33v8.34"/>
<path d="M313.33 386.5h8.34M317.5 382.33v8.34"/>
<path d="M306.33 386.5h8.34M310.5 382.33v8.34"/>
<path d="M305.33 386.5h8.34M309.5 382.33v8.34"/>
<path d="M289.33 386.5h8.34M293.5 382.33v8.34"/>
<path d="M282.33 386.5h8.34M286.5 382.33v8.34"/>
<path d="M309.33 386.5h8.34M313.5 382.33v8.34"/>
<path d="M313.33 386.5h8.34M317.5 382.33v8.34"/>
<path d="M284.33 386.5h8.34M288.5 382.33v8.34"/>
<path d="M308.33 387.5h8.34M312.5 383.33v8.34"/>
<path d="M302.33 387.5h8.34M306.5 383.33v8.34"/>
<path d="M310.33 387.5h8.34M314.5 383.33v8.34"/>
<path d="M302.33 387.5h8.34M306.5 383.33v8.34"/>
<path d="M310.33 387.5h8.34M314.5 383.33v8.34"/>
<path d="M316.33 387.5h8.34M320.5 383.33v8.34"/>
<path d="M314.33 387.5h8.34M318.5 383.33v8.34"/>
<path d="M309.33 387.5h8.34M313.5 383.33v8.34"/>
<path d="M298.33 388.5h8.34M302.5 384.33v8.34"/>
<path d="M287.33 388.5h8.34M291.5 384.33v8.34"/>
<path d="M318.33 388.5h8.34M322.5 384.33v8.34"/>
<path d="M316.33 388.5h8.34M320.5 384.33v8.34"/>
<path d="M317.33 388.5h8.34M321.5 384.33v8.34"/>
<path d="M298.33 388.5h8.34M302.5 384.33v8.34"/>
<path d="M334.33 388.5h8.34M338.5 384.33v8.34"/>
<path d="M328.33 388.5h8.34M332.5 384.33v8.34"/>
<path d="M312.33 388.5h8.34M316.5 384.33v8.34"/>
<path d="M300.33 389.5h8.34M304.5 385.33v8.34"/>
<path d="M296.33 389.5h8.34M300.5 385.33v8.34"/>
<path d="M322.33 389.5h8.34M326.5 385.33v8.34"/>
<path d="M308.33 389.5h8.34M312.5 385.33v8.34"/>
<path d="M305.33 389.5h8.34M309.5 385.33v8.34"/>
<path d="M288.33 389.5h8.34M292.5 385.33v8.34"/>
<path d="M284.33 389.5h8.34M288.5 385.33v8.34"/>
<path d="M308.33 389.5h8.34M312.5 385.33v8.34"/>
<path d="M309.33 389.5h8.34M313.5 385.33v8.34"/>
<path d="M300.33 390.5h8.34M304.5 386.33v8.34"/>
<path d="M300.33 390.5h8.34M304.5 386.33v8.34"/>
<path d="M313.33 390.5h8.34M317.5 386.33v8.34"/>
<path d="M314.33 390.5h8.34M318.5 386.33v8.34"/>
<path d="M318.33 390.5h8.34M322.5 386.33v8.34"/>
<path d="M308.33 390.5h8.34M312.5 386.33v8.34"/>
<path d="M310.33 390.5h8.34M314.5 386.33v8.34"/>
<path d="M322.33 390.5h8.34M326.5 386.33v8.34"/>
<path d="M299.33 391.5h8.34M303.5 387.33v8.34"/>
<path d="M300.33 391.5h8.34M304.5 387.33v8.34"/>
<path d="M309.33 391.5h8.34M313.5 387.33v8.34"/>
<path d="M315.33 391.5h8.34M319.5 387.33v8.34"/>
<path d="M322.33 391.5h8.34M326.5 387.33v8.34"/>
<path d="M295.33 391.5h8.34M299.5 387.33v8.34"/>
<path d="M324.33 391.5h8.34M328.5 387.33v8.34"/>
<path d="M309.33 391.5h8.34M313.5 387.33v8.34"/>
<path d="M301.33 391.5h8.34M305.5 387.33v8.34"/>
<path d="M293.33 391.5h8.34M297.5 387.33v8.34"/>
<path d="M309.33 392.5h8.34M313.5 388.33v8.34"/>
<path d="M332.33 392.5h8.34M336.5 388.33v8.34"/>
<path d="M302.33 392.5h8.34M306.5 388.33v8.34"/>
<path d="M313.33 392.5h8.34M317.5 388.33v8.34"/>
<path d="M322.33 392.5h8.34M326.5 388.33v8.34"/>
<path d="M310.33 392.5h8.34M314.5 388.33v8.34"/>
<path d="M313.33 392.5h8.34M317.5 388.33v8.34"/>
<path d="M323.33 392.5h8.34M327.5 388.33v8.34"/>
<path d="M311.33 393.5h8.34M315.5 389.33v8.34"/>
<path d="M302.33 393.5h8.34M306.5 389.33v8.34"/>
<path d="M331.33 393.5h8.34M335.5 389.33v8.34"/>
<path d="M316.33 393.5h8.34M320.5 389.33v8.34"/>
<path d="M330.33 393.5h8.34M334.5 389.33v8.34"/>
<path d="M310.33 393.5h8.34M314.5 389.33v8.34"/>
<path d="M308.33 393.5h8.34M312.5 389.33v8.34"/>
<path d="M296.33 393.5h8.34M300.5 389.33v8.34"/>
<path d="M309.33 393.5h8.34M313.5 389.33v8.34"/>
<path d="M312.33 394.5h8.34M316.5 390.33v8.34"/>
<path d="M301.33 394.5h8.34M305.5 390.33v8.34"/>
<path d="M288.33 394.5h8.34M292.5 390.33v8.34"/>
<path d="M297.33 394.5h8.34M301.5 390.33v8.34"/>
<path d="M305.33 394.5h8.34M309.5 390.33v8.34"/>
<path d="M307.33 394.5h8.34M311.5 390.33v8.34"/>
<path d="M325.33 394.5h8.34M329.5 390.33v8.34"/>
<path d="M310.33 394.5h8.34M314.5 390.33v8.34"/>
<path d="M307.33 394.5h8.34M311.5 390.33v8.34"/>
<path d="M308.33 395.5h8.34M312.5 391.33v8.34"/>
<path d="M282.33 395.5h8.34M286.5 391.33v8.34"/>
<path d="M316.33 395.5h8.34M320.5 391.33v8.34"/>
<path d="M302.33 395.5h8.34M306.5 391.33v8.34"/>
<path d="M297.33 395.5h8.34M301.5 391.33v8.34"/>
<path d="M296.33 395.5h8.34M300.5 391.33v8.34"/>
<path d="M288.33 395.5h8.34M292.5 391.33v8.34"/>
<path d="M313.33 395.5h8.34M317.5 391.33v8.34"/>
<path d="M292.33 395.5h8.34M296.5 391.33v8.34"/>
<path d="M316.33 396.5h8.34M320.5 392.33v8.34"/>
<path d="M313.33 396.5h8.34M317.5 392.33v8.34"/>
<path d="M325.33 396.5h8.34M329.5 392.33v8.34"/>
<path d="M311.33 396.5h8.34M315.5 392.33v8.34"/>
<path d="M311.33 396.5h8.34M315.5 392.33v8.34"/>
<path d="M306.33 396.5h8.34M310.5 392.33v8.34"/>
<path d="M314.33 396.5h8.34M318.5 392.33v8.34"/>
<path d="M303.33 396.5h8.34M307.5 392.33v8.34"/>
<path d="M294.33 396.5h8.34M298.5 392.33v8.34"/>
<path d="M324.33 397.5h8.34M328.5 393.33v8.34"/>
<path d="M316.33 397.5h8.34M320.5 393.33v8.34"/>
<path d="M320.33 397.5h8.34M324.5 393.33v8.34"/>
<path d="M287.33 397.5h8.34M291.5 393.33v8.34"/>
<path d="M333.33 397.5h8.34M337.5 393.33v8.34"/>
<path d="M295.33 397.5h8.34M299.5 393.33v8.34"/>
<path d="M312.33 397.5h8.34M316.5 393.33v8.34"/>
<path d="M311.33 397.5h8.34M315.5 393.33v8.34"/>
<path d="M295.33 397.5h8.34M299.5 393.33v8.34"/>
<path d="M293.33 398.5h8.34M297.5 394.33v8.34"/>
<path d="M314.33 398.5h8.34M318.5 394.33v8.34"/>
<path d="M313.33 398.5h8.34M317.5 394.33v8.34"/>
<path d="M304.33 398.5h8.34M308.5 394.33v8.34"/>
<path d="M321.33 398.5h8.34M325.5 394.33v8.34"/>
<path d="M306.33 398.5h8.34M310.5 394.33v8.34"/>
<path d="M328.33 398.5h8.34M332.5 394.33v8.34"/>
<path d="M323.33 398.5h8.34M327.5 394.33v8.34"/>
<path d="M306.33 398.5h8.34M310.5 394.33v8.34"/>
<path d="M328.33 398.5h8.34M332.5 394.33v8.34"/>
<path d="M312.33 399.5h8.34M316.5 395.33v8.34"/>
<path d="M299.33 399.5h8.34M303.5 395.33v8.34"/>
<path d="M325.33 399.5h8.34M329.5 395.33v8.34"/>
<path d="M313.33 399.5h8.34M317.5 395.33v8.34"/>
<path d="M306.33 399.5h8.34M310.5 395.33v8.34"/>
<path d="M318.33 399.5h8.34M322.5 395.33v8.34"/>
<path d="M310.33 399.5h8.34M314.5 395.33v8.34"/>
<path d="M323.33 399.5h8.34M327.5 395.33v8.34"/>
<path d="M310.33 399.5h8.34M314.5 395.33v8.34"/>
<path d="M315.33 400.5h8.34M319.5 396.33v8.34"/>
<path d="M323.33 400.5h8.34M327.5 396.33v8.34"/>
<path d="M308.33 400.5h8.34M312.5 396.33v8.34"/>
<path d="M339.33 400.5h8.34M343.5 396.33v8.34"/>
<path d="M305.33 400.5h8.34M309.5 396.33v8.34"/>
<path d="M296.33 400.5h8.34M300.5 396.33v8.34"/>
<path d="M328.33 400.5h8.34M332.5 396.33v8.34"/>
<path d="M320.33 400.5h8.34M324.5 396.33v8.34"/>
<path d="M302.33 400.5h8.34M306.5 396.33v8.34"/>
<path d="M302.33 401.5h8.34M306.5 397.33v8.34"/>
<path d="M314.33 401.5h8.34M318.5 397.33v8.34"/>
<path d="M307.33 401.5h8.34M311.5 397.33v8.34"/>
<path d="M313.33 401.5h8.34M317.5 397.33v8.34"/>
<path d="M319.33 401.5h8.34M323.5 397.33v8.34"/>
<path d="M292.33 401.5h8.34M296.5 397.33v8.34"/>
<path d="M327.33 401.5h8.34M331.5 397.33v8.34"/>
<path d="M290.33 401.5h8.34M294.5 397.33v8.34"/>
<path d="M306.33 401.5h8.34M310.5 397.33v8.34"/>
<path d="M301.33 401.5h8.34M305.5 397.33v8.34"/>
<path d="M319.33 402.5h8.34M323.5 398.33v8.34"/>
<path d="M299.33 402.5h8.34M303.5 398.33v8.34"/>
<path d="M293.33 402.5h8.34M297.5 398.33v8.34"/>
<path d="M313.33 402.5h8.34M317.5 398.33v8.34"/>
<path d="M294.33 402.5h8.34M298.5 398.33v8.34"/>
<path d="M317.33 402.5h8.34M321.5 398.33v8.34"/>
<path d="M304.33 402.5h8.34M308.5 398.33v8.34"/>
<path d="M303.33 402.5h8.34M307.5 398.33v8.34"/>
<path d="M287.33 402.5h8.34M291.5 398.33v8.34"/>
<path d="M311.33 403.5h8.34M315.5 399.33v8.34"/>
<path d="M322.33 403.5h8.34M326.5 399.33v8.34"/>
<path d="M306.33 403.5h8.34M310.5 399.33v8.34"/>
<path d="M318.33 403.5h8.34M322.5 399.33v8.34"/>
<path d="M336.33 403.5h8.34M340.5 399.33v8.34"/>
<path d="M330.33 403.5h8.34M334.5 399.33v8.34"/>
<path d="M333.33 403.5h8.34M337.5 399.33v8.34"/>
<path d="M308.33 403.5h8.34M312.5 399.33v8.34"/>
<path d="M316.33 403.5h8.34M320.5 399.33v8.34"/>
<path d="M328.33 404.5h8.34M332.5 400.33v8.34"/>
<path d="M308.33 404.5h8.34M312.5 400.33v8.34"/>
<path d="M313.33 404.5h8.34M317.5 400.33v8.34"/>
<path d="M305.33 404.5h8.34M309.5 400.33v8.34"/>
<path d="M296.33 404.5h8.34M300.5 400.33v8.34"/>
<path d="M321.33 404.5h8.34M325.5 400.33v8.34"/>
<path d="M324.33 404.5h8.34M328.5 400.33v8.34"/>
<path d="M322.33 404.5h8.34M326.5 400.33v8.34"/>
<path d="M303.33 404.5h8.34M307.5 400.33v8.34"/>
<path d="M299.33 404.5h8.34M303.5 400.33v8.34"/>
<path d="M315.33 405.5h8.34M319.5 401.33v8.34"/>
<path d="M314.33 405.5h8.34M318.5 401.33v8.34"/>
<path d="M291.33 405.5h8.34M295.5 401.33v8.34"/>
<path d="M302.33 405.5h8.34M306.5 401.33v8.34"/>
<path d="M300.33 405.5h8.34M304.5 401.33v8.34"/>
<path d="M322.33 405.5h8.34M326.5 401.33v8.34"/>
<path d="M318.33 405.5h8.34M322.5 401.33v8.34"/>
<path d="M304.33 405.5h8.34M308.5 401.33v8.34"/>
<path d="M304.33 405.5h8.34M308.5 401.33v8.34"/>
<path d="M301.33 406.5h8.34M305.5 402.33v8.34"/>
<path d="M302.33 406.5h8.34M306.5 402.33v8.34"/>
<path d="M319.33 406.5h8.34M323.5 402.33v8.34"/>
<path d="M328.33 406.5h8.34M332.5 402.33v8.34"/>
<path d="M275.33 406.5h8.34M279.5 402.33v8.34"/>
<path d="M313.33 406.5h8.34M317.5 402.33v8.34"/>
<path d="M323.33 406.5h8.34M327.5 402.33v8.34"/>
<path d="M330.33 406.5h8.34M334.5 402.33v8.34"/>
<path d="M325.33 406.5h8.34M329.5 402.33v8.34"/>
<path d="M321.33 407.5h8.34M325.5 403.33v8.34"/>
<path d="M292.33 407.5h8.34M296.5 403.33v8.34"/>
<path d="M310.33 407.5h8.34M314.5 403.33v8.34"/>
<path d="M284.33 407.5h8.34M288.5 403.33v8.34"/>
<path d="M328.33 407.5h8.34M332.5 403.33v8.34"/>
<path d="M293.33 407.5h8.34M297.5 403.33v8.34"/>
<path d="M325.33 407.5h8.34M329.5 403.33v8.34"/>
<path d="M308.33 407.5h8.34M312.5 403.33v8.34"/>
<path d="M315.33 407.5h8.34M319.5 403.33v8.34"/>
<path d="M330.33 407.5h8.34M334.5 403.33v8.34"/>
<path d="M312.33 408.5h8.34M316.5 404.33v8.34"/>
<path d="M305.33 408.5h8.34M309.5 404.33v8.34"/>
<path d="M320.33 408.5h8.34M324.5 404.33v8.34"/>
<path d="M327.33 408.5h8.34M331.5 404.33v8.34"/>
<path d="M305.33 408.5h8.34M309.5 404.33v8.34"/>
<path d="M304.33 408.5h8.34M308.5 404.33v8.34"/>
<path d="M317.33 408.5h8.34M321.5 404.33v8.34"/>
<path d="M318.33 408.5h8.34M322.5 404.33v8.34"/>
<path d="M293.33 408.5h8.34M297.5 404.33v8.34"/>
<path d="M317.33 409.5h8.34M321.5 405.33v8.34"/>
<path d="M346.33 409.5h8.34M350.5 405.33v8.34"/>
<path d="M322.33 409.5h8.34M326.5 405.33v8.34"/>
<path d="M288.33 409.5h8.34M292.5 405.33v8.34"/>
<path d="M305.33 409.5h8.34M309.5 405.33v8.34"/>
<path d="M309.33 409.5h8.34M313.5 405.33v8.34"/>
<path d="M318.33 409.5h8.34M322.5 405.33v8.34"/>
<path d="M303.33 409.5h8.34M307.5 405.33v8.34"/>
<path d="M303.33 409.5h8.34M307.5 405.33v8.34"/>
<path d="M315.33 410.5h8.34M319.5 406.33v8.34"/>
<path d="M309.33 410.5h8.34M313.5 406.33v8.34"/>
<path d="M322.33 410.5h8.34M326.5 406.33v8.34"/>
<path d="M294.33 410.5h8.34M298.5 406.33v8.34"/>
<path d="M320.33 410.5h8.34M324.5 406.33v8.34"/>
<path d="M336.33 410.5h8.34M340.5 406.33v8.34"/>
<path d="M300.33 410.5h8.34M304.5 406.33v8.34"/>
<path d="M332.33 410.5h8.34M336.5 406.33v8.34"/>
<path d="M298.33 410.5h8.34M302.5 406.33v8.34"/>
<path d="M309.33 410.5h8.34M313.5 406.33v8.34"/>
<path d="M310.33 411.5h8.34M314.5 407.33v8.34"/>
<path d="M306.33 411.5h8.34M310.5 407.33v8.34"/>
<path d="M303.33 411.5h8.34M307.5 407.33v8.34"/>
<path d="M314.33 411.5h8.34M318.5 407.33v8.34"/>
<path d="M336.33 411.5h8.34M340.5 407.33v8.34"/>
<path d="M332.33 411.5h8.34M336.5 407.33v8.34"/>
<path d="M298.33 411.5h8.34M302.5 407.33v8.34"/>
<path d="M293.33 411.5h8.34M297.5 407.33v8.34"/>
<path d="M296.33 411.5h8.34M300.5 407.33v8.34"/>
<path d="M318.33 411.5h8.34M322.5 407.33v8.34"/>
<path d="M285.33 412.5h8.34M289.5 408.33v8.34"/>
<path d="M289.33 412.5h8.34M293.5 408.33v8.34"/>
<path d="M307.33 412.5h8.34M311.5 408.33v8.34"/>
<path d="M301.33 412.5h8.34M305.5 408.33v8.34"/>
<path d="M308.33 412.5h8.34M312.5 408.33v8.34"/>
<path d="M307.33 412.5h8.34M311.5 408.33v8.34"/>
<path d="M312.33 412.5h8.34M316.5 408.33v8.34"/>
<path d="M295.33 412.5h8.34M299.5 408.33v8.34"/>
<path d="M313.33 412.5h8.34M317.5 408.33v8.34"/>
<path d="M340.33 413.5h8.34M344.5 409.33v8.34"/>
<path d="M313.33 413.5h8.34M317.5 409.33v8.34"/>
<path d="M298.33 413.5h8.34M302.5 409.33v8.34"/>
<path d="M288.33 413.5h8.34M292.5 409.33v8.34"/>
<path d="M318.33 413.5h8.34M322.5 409.33v8.34"/>
<path d="M311.33 413.5h8.34M315.5 409.33v8.34"/>
<path d="M332.33 413.5h8.34M336.5 409.33v8.34"/>
<path d="M316.33 413.5h8.34M320.5 409.33v8.34"/>
<path d="M292.33 413.5h8.34M296.5 409.33v8.34"/>
<path d="M357.33 413.5h8.34M361.5 409.33v8.34"/>
<path d="M315.33 414.5h8.34M319.5 410.33v8.34"/>
<path d="M310.33 414.5h8.34M314.5 410.33v8.34"/>
<path d="M297.33 414.5h8.34M301.5 410.33v8.34"/>
<path d="M337.33 414.5h8.34M341.5 410.33v8.34"/>
<path d="M287.33 414.5h8.34M291.5 410.33v8.34"/>
<path d="M308.33 414.5h8.34M312.5 410.33v8.34"/>
<path d="M296.33 414.5h8.34M300.5 410.33v8.34"/>
<path d="M321.33 414.5h8.34M325.5 410.33v8.34"/>
<path d="M319.33 414.5h8.34M323.5 410.33v8.34"/>
<path d="M299.33 415.5h8.34M303.5 411.33v8.34"/>
<path d="M272.33 415.5h8.34M276.5 411.33v8.34"/>
<path d="M311.33 415.5h8.34M315.5 411.33v8.34"/>
<path d="M306.33 415.5h8.34M310.5 411.33v8.34"/>
<path d="M324.33 415.5h8.34M328.5 411.33v8.34"/>
<path d="M295.33 415.5h8.34M299.5 411.33v8.34"/>
<path d="M293.33 415.5h8.34M297.5 411.33v8.34"/>
<path d="M326.33 415.5h8.34M330.5 411.33v8.34"/>
<path d="M300.33 415.5h8.34M304.5 411.33v8.34"/>
<path d="M322.33 416.5h8.34M326.5 412.33v8.34"/>
<path d="M313.33 416.5h8.34M317.5 412.33v8.34"/>
<path d="M298.33 416.5h8.34M302.5 412.33v8.34"/>
<path d="M290.33 416.5h8.34M294.5 412.33v8.34"/>
<path d="M297.33 416.5h8.34M301.5 412.33v8.34"/>
<path d="M298.33 416.5h8.34M302.5 412.33v8.34"/>
<path d="M308.33 416.5h8.34M312.5 412.33v8.34"/>
<path d="M303.33 416.5h8.34M307.5 412.33v8.34"/>
<path d="M313.33 416.5h8.34M317.5 412.33v8.34"/>
<path d="M306.33 416.5h8.34M310.5 412.33v8.34"/>
<path d="M319.33 416.5h8.34M323.5 412.33v8.34"/>
<path d="M280.33 417.5h8.34M284.5 413.33v8.34"/>
<path d="M325.33 417.5h8.34M329.5 413.33v8.34"/>
<path d="M289.33 417.5h8.34M293.5 413.33v8.34"/>
<path d="M308.33 417.5h8.34M312.5 413.33v8.34"/>
<path d="M328.33 417.5h8.34M332.5 413.33v8.34"/>
<path d="M291.33 417.5h8.34M295.5 413.33v8.34"/>
<path d="M285.33 417.5h8.34M289.5 413.33v8.34"/>
<path d="M320.33 417.5h8.34M324.5 413.33v8.34"/>
<path d="M315.33 417.5h8.34M319.5 413.33v8.34"/>
<path d="M328.33 418.5h8.34M332.5 414.33v8.34"/>
<path d="M305.33 418.5h8.34M309.5 414.33v8.34"/>
<path d="M283.33 418.5h8.34M287.5 414.33v8.34"/>
<path d="M293.33 418.5h8.34M297.5 414.33v8.34"/>
<path d="M307.33 418.5h8.34M311.5 414.33v8.34"/>
<path d="M317.33 418.5h8.34M321.5 414.33v8.34"/>
<path d="M315.33 418.5h8.34M319.5 414.33v8.34"/>
<path d="M315.33 418.5h8.34M319.5 414.33v8.34"/>
<path d="M342.33 418.5h8.34M346.5 414.33v8.34"/>
<path d="M341.33 419.5h8.34M345.5 415.33v8.34"/>
<path d="M315.33 419.5h8.34M319.5 415.33v8.34"/>
<path d="M315.33 419.5h8.34M319.5 415.33v8.34"/>
<path d="M312.33 419.5h8.34M316.5 415.33v8.34"/>
<path d="M303.33 419.5h8.34M307.5 415.33v8.34"/>
<path d="M306.33 419.5h8.34M310.5 415.33v8.34"/>
<path d="M283.33 419.5h8.34M287.5 415.33v8.34"/>
<path d="M296.33 419.5h8.34M300.5 415.33v8.34"/>
<path d="M295.33 419.5h8.34M299.5 415.33v8.34"/>
<path d="M312.33 419.5h8.34M316.5 415.33v8.34"/>
<path d="M360.33 419.5h8.34M364.5 415.33v8.34"/>
<path d="M336.33 420.5h8.34M340.5 416.33v8.34"/>
<path d="M315.33 420.5h8.34M319.5 416.33v8.34"/>
<path d="M304.33 420.5h8.34M308.5 416.33v8.34"/>
<path d="M337.33 420.5h8.34M341.5 416.33v8.34"/>
<path d="M308.33 420.5h8.34M312.5 416.33v8.34"/>
<path d="M314.33 420.5h8.34M318.5 416.33v8.34"/>
<path d="M291.33 420.5h8.34M295.5 416.33v8.34"/>
<path d="M322.33 420.5h8.34M326.5 416.33v8.34"/>
<path d="M299.33 420.5h8.34M303.5 416.33v8.34"/>
<path d="M331.33 421.5h8.34M335.5 417.33v8.34"/>
<path d="M292.33 421.5h8.34M296.5 417.33v8.34"/>
<path d="M332.33 421.5h8.34M336.5 417.33v8.34"/>
<path d="M301.33 421.5h8.34M305.5 417.33v8.34"/>
<path d="M308.33 421.5h8.34M312.5 417.33v8.34"/>
<path d="M305.33 421.5h8.34M309.5 417.33v8.34"/>
<path d="M285.33 421.5h8.34M289.5 417.33v8.34"/>
<path d="M343.33 421.5h8.34M347.5 417.33v8.34"/>
<path d="M309.33 421.5h8.34M313.5 417.33v8.34"/>
<path d="M283.33 422.5h8.34M287.5 418.33v8.34"/>
<path d="M328.33 422.5h8.34M332.5 418.33v8.34"/>
<path d="M286.33 422.5h8.34M290.5 418.33v8.34"/>
<path d="M293.33 422.5h8.34M297.5 418.33v8.34"/>
<path d="M326.33 422.5h8.34M330.5 418.33v8.34"/>
<path d="M314.33 422.5h8.34M318.5 418.33v8.34"/>
<path d="M327.33 422.5h8.34M331.5 418.33v8.34"/>
<path d="M283.33 422.5h8.34M287.5 418.33v8.34"/>
<path d="M326.33 422.5h8.34M330.5 418.33v8.34"/>
<path d="M284.33 422.5h8.34M288.5 418.33v8.34"/>
<path d="M333.33 422.5h8.34M337.5 418.33v8.34"/>
<path d="M290.33 423.5h8.34M294.5 419.33v8.34"/>
<path d="M310.33 423.5h8.34M314.5 419.33v8.34"/>
<path d="M320.33 423.5h8.34M324.5 419.33v8.34"/>
<path d="M322.33 423.5h8.34M326.5 419.33v8.34"/>
<path d="M340.33 423.5h8.34M344.5 419.33v8.34"/>
<path d="M295.33 423.5h8.34M299.5 419.33v8.34"/>
<path d="M299.33 423.5h8.34M303.5 419.33v8.34"/>
<path d="M313.33 423.5h8.34M317.5 419.33v8.34"/>
<path d="M341.33 423.5h8.34M345.5 419.33v8.34"/>
<path d="M340.33 424.5h8.34M344.5 420.33v8.34"/>
<path d="M330.33 424.5h8.34M334.5 420.33v8.34"/>
<path d="M283.33 424.5h8.34M287.5 420.33v8.34"/>
<path d="M297.33 424.5h8.34M301.5 420.33v8.34"/>
<path d="M292.33 424.5h8.34M296.5 420.33v8.34"/>
<path d="M317.33 424.5h8.34M321.5 420.33v8.34"/>
<path d="M325.33 424.5h8.34M329.5 420.33v8.34"/>
<path d="M337.33 424.5h8.34M341.5 420.33v8.34"/>
<path d="M298.33 424.5h8.34M302.5 420.33v8.34"/>
<path d="M326.33 425.5h8.34M330.5 421.33v8.34"/>
<path d="M330.33 425.5h8.34M334.5 421.33v8.34"/>
<path d="M314.33 425.5h8.34M318.5 421.33v8.34"/>
<path d="M316.33 425.5h8.34M320.5 421.33v8.34"/>
<path d="M305.33 425.5h8.34M309.5 421.33v8.34"/>
<path d="M311.33 425.5h8.34M315.5 421.33v8.34"/>
<path d="M314.33 425.5h8.34M318.5 421.33v8.34"/>
<path d="M327.33 425.5h8.34M331.5 421.33v8.34"/>
<path d="M300.33 425.5h8.34M304.5 421.33v8.34"/>
<path d="M317.33 425.5h8.34M321.5 421.33v8.34"/>
<path d="M296.33 425.5h8.34M300.5 421.33v8.34"/>
<path d="M333.33 426.5h8.34M337.5 422.33v8.34"/>
<path d="M275.33 426.5h8.34M279.5 422.33v8.34"/>
<path d="M318.33 426.5h8.34M322.5 422.33v8.34"/>
<path d="M325.33 426.5h8.34M329.5 422.33v8.34"/>
<path d="M282.33 426.5h8.34M286.5 422.33v8.34"/>
<path d="M302.33 426.5h8.34M306.5 422.33v8.34"/>
<path d="M320.33 426.5h8.34M324.5 422.33v8.34"/>
<path d="M311.33 426.5h8.34M315.5 422.33v8.34"/>
<path d="M346.33 426.5h8.34M350.5 422.33v8.34"/>
<path d="M344.33 427.5h8.34M348.5 423.33v8.34"/>
<path d="M287.33 427.5h8.34M291.5 423.33v8.34"/>
<path d="M282.33 427.5h8.34M286.5 423.33v8.34"/>
<path d="M305.33 427.5h8.34M309.5 423.33v8.34"/>
<path d="M318.33 427.5h8.34M322.5 423.33v8.34"/>
<path d="M315.33 427.5h8.34M319.5 423.33v8.34"/>
<path d="M319.33 427.5h8.34M323.5 423.33v8.34"/>
<path d="M345.33 427.5h8.34M349.5 423.33v8.34"/>
<path d="M293.33 427.5h8.34M297.5 423.33v8.34"/>
<path d="M321.33 428.5h8.34M325.5 424.33v8.34"/>
<path d="M288.33 428.5h8.34M292.5 424.33v8.34"/>
<path d="M324.33 428.5h8.34M328.5 424.33v8.34"/>
<path d="M318.33 428.5h8.34M322.5 424.33v8.34"/>
<path d="M308.33 428.5h8.34M312.5 424.33v8.34"/>
<path d="M302.33 428.5h8.34M306.5 424.33v8.34"/>
<path d="M327.33 428.5h8.34M331.5 424.33v8.34"/>
<path d="M324.33 428.5h8.34M328.5 424.33v8.34"/>
<path d="M304.33 428.5h8.34M308.5 424.33v8.34"/>
<path d="M316.33 428.5h8.34M320.5 424.33v8.34"/>
<path d="M314.33 428.5h8.34M318.5 424.33v8.34"/>
<path d="M312.33 429.5h8.34M316.5 425.33v8.34"/>
<path d="M354.33 429.5h8.34M358.5 425.33v8.34"/>
<path d="M324.33 429.5h8.34M328.5 425.33v8.34"/>
<path d="M339.33 429.5h8.34M343.5 425.33v8.34"/>
<path d="M288.33 429.5h8.34M292.5 425.33v8.34"/>
<path d="M348.33 429.5h8.34M352.5 425.33v8.34"/>
<path d="M338.33 429.5h8.34M342.5 425.33v8.34"/>
<path d="M300.33 429.5h8.34M304.5 425.33v8.34"/>
<path d="M320.33 429.5h8.34M324.5 425.33v8.34"/>
<path d="M308.33 430.5h8.34M312.5 426.33v8.34"/>
<path d="M308.33 430.5h8.34M312.5 426.33v8.34"/>
<path d="M310.33 430.5h8.34M314.5 426.33v8.34"/>
<path d="M293.33 430.5h8.34M297.5 426.33v8.34"/>
<path d="M313.33 430.5h8.34M317.5 426.33v8.34"/>
<path d="M333.33 430.5h8.34M337.5 426.33v8.34"/>
<path d="M324.33 430.5h8.34M328.5 426.33v8.34"/>
<path d="M302.33 430.5h8.34M306.5 426.33v8.34"/>
<path d="M299.33 430.5h8.34M303.5 426.33v8.34"/>
<path d="M350.33 430.5h8.34M354.5 426.33v8.34"/>
<path d="M351.33 431.5h8.34M355.5 427.33v8.34"/>
<path d="M329.33 431.5h8.34M333.5 427.33v8.34"/>
<path d="M301.33 431.5h8.34M305.5 427.33v8.34"/>
<path d="M317.33 431.5h8.34M321.5 427.33v8.34"/>
<path d="M279.33 431.5h8.34M283.5 427.33v8.34"/>
<path d="M357.33 431.5h8.34M361.5 427.33v8.34"/>
<path d="M327.33 431.5h8.34M331.5 427.33v8.34"/>
<path d="M324.33 431.5h8.34M328.5 427.33v8.34"/>
<path d="M313.33 431.5h8.34M317.5 427.33v8.34"/>
<path d="M300.33 431.5h8.34M304.5 427.33v8.34"/>
<path d="M322.33 437.5h8.34M326.5 433.33v8.34"/>
<path d="M246.33 441.5h8.34M250.5 437.33v8.34"/>
<path d="M325.33 436.5h8.34M329.5 432.33v8.34"/>
<path d="M287.33 438.5h8.34M291.5 434.33v8.34"/>
<path d="M332.33 440.5h8.34M336.5 436.33v8.34"/>
<path d="M259.33 444.5h8.34M263.5 440.33v8.34"/>
<path d="M263.33 439.5h8.34M267.5 435.33v8.34"/>
<path d="M264.33 431.5h8.34M268.5 427.33v8.34"/>
<path d="M253.33 444.5h8.34M257.5 440.33v8.34"/>
<path d="M293.33 442.5h8.34M297.5 438.33v8.34"/>
<path d="M272.33 440.5h8.34M276.5 436.33v8.34"/>
<path d="M313.33 444.5h8.34M317.5 440.33v8.34"/>
<path d="M323.33 436.5h8.34M327.5 432.33v8.34"/>
<path d="M252.33 437.5h8.34M256.5 433.33v8.34"/>
<path d="M315.33 432.5h8.34M319.5 428.33v8.34"/>
<path d="M251.33 442.5h8.34M255.5 438.33v8.34"/>
<path d="M323.33 434.5h8.34M327.5 430.33v8.34"/>
<path d="M328.33 446.5h8.34M332.5 442.33v8.34"/>
<path d="M292.33 448.5h8.34M296.5 444.33v8.34"/>
<path d="M291.33 439.5h8.34M295.5 435.33v8.34"/>
<path d="M328.33 438.5h8.34M332.5 434.33v8.34"/>
<path d="M325.33 441.5h8.34M329.5 437.33v8.34"/>
<path d="M280.33 441.5h8.34M284.5 437.33v8.34"/>
<path d="M302.33 442.5h8.34M306.5 438.33v8.34"/>
<path d="M246.33 434.5h8.34M250.5 430.33v8.34"/>
<path d="M294.33 438.5h8.34M298.5 434.33v8.34"/>
<path d="M257.33 437.5h8.34M261.5 433.33v8.34"/>
<path d="M328.33 430.5h8.34M332.5 426.33v8.34"/>
<path d="M276.33 437.5h8.34M280.5 433.33v8.34"/>
<path d="M317.33 434.5h8.34M321.5 430.33v8.34"/>
<path d="M251.33 446.5h8.34M255.5 442.33v8.34"/>
<path d="M293.33 430.5h8.34M297.5 426.33v8.34"/>
<path d="M294.33 433.5h8.34M298.5 429.33v8.34"/>
<path d="M247.33 437.5h8.34M251.5 433.33v8.34"/>
<path d="M337.33 439.5h8.34M341.5 435.33v8.34"/>
<path d="M255.33 441.5h8.34M259.5 437.33v8.34"/>
<path d="M269.33 439.5h8.34M273.5 435.33v8.34"/>
<path d="M255.33 437.5h8.34M259.5 433.33v8.34"/>
<path d="M312.33 439.5h8.34M316.5 435.33v8.34"/>
<path d="M302.33 439.5h8.34M306.5 435.33v8.34"/>
<path d="M300.33 432.5h8.34M304.5 428.33v8.34"/>
<path d="M255.33 437.5h8.34M259.5 433.33v8.34"/>
<path d="M328.33 438.5h8.34M332.5 434.33v8.34"/>
<path d="M257.33 437.5h8.34M261.5 433.33v8.34"/>
<path d="M292.33 435.5h8.34M296.5 431.33v8.34"/>
<path d="M257.33 438.5h8.34M261.5 434.33v8.34"/>
<path d="M284.33 442.5h8.34M288.5 438.33v8.34"/>
<path d="M327.33 443.5h8.34M331.5 439.33v8.34"/>
<path d="M259.33 432.5h8.34M263.5 428.33v8.34"/>
<path d="M261.33 435.5h8.34M265.5 431.33v8.34"/>
<path d="M324.33 443.5h8.34M328.5 439.33v8.34"/>
<path d="M285.33 437.5h8.34M289.5 433.33v8.34"/>
<path d="M325.33 434.5h8.34M329.5 430.33v8.34"/>
<path d="M335.33 438.5h8.34M339.5 434.33v8.34"/>
<path d="M319.33 437.5h8.34M323.5 433.33v8.34"/>
<path d="M277.33 441.5h8.34M281.5 437.33v8.34"/>
<path d="M287.33 447.5h8.34M291.5 443.33v8.34"/>
<path d="M332.33 438.5h8.34M336.5 434.33v8.34"/>
<path d="M323.33 439.5h8.34M327.5 435.33v8.34"/>
<path d="M295.33 437.5h8.34M299.5 433.33v8.34"/>
<path d="M336.33 442.5h8.34M340.5 438.33v8.34"/>
<path d="M286.33 437.5h8.34M290.5 433.33v8.34"/>
<path d="M306.33 435.5h8.34M310.5 431.33v8.34"/>
<path d="M252.33 443.5h8.34M256.5 439.33v8.34"/>
<path d="M287.33 438.5h8.34M291.5 434.33v8.34"/>
<path d="M259.33 438.5h8.34M263.5 434.33v8.34"/>
<path d="M338.33 440.5h8.34M342.5 436.33v8.34"/>
<path d="M306.33 428.5h8.34M310.5 424.33v8.34"/>
<path d="M322.33 445.5h8.34M326.5 441.33v8.34"/>
<path d="M249.33 432.5h8.34M253.5 428.33v8.34"/>
<path d="M306.33 438.5h8.34M310.5 434.33v8.34"/>
<path d="M271.33 445.5h8.34M275.5 441.33v8.34"/>
<path d="M297.33 444.5h8.34M301.5 440.33v8.34"/>
<path d="M269.33 436.5h8.34M273.5 432.33v8.34"/>
<path d="M295.33 428.5h8.34M299.5 424.33v8.34"/>
<path d="M273.33 443.5h8.34M277.5 439.33v8.34"/>
<path d="M275.33 437.5h8.34M279.5 433.33v8.34"/>
<path d="M302.33 437.5h8.34M306.5 433.33v8.34"/>
<path d="M336.33 435.5h8.34M340.5 431.33v8.34"/>
<path d="M290.33 438.5h8.34M294.5 434.33v8.34"/>
<path d="M296.33 440.5h8.34M300.5 436.33v8.34"/>
<path d="M258.33 440.5h8.34M262.5 436.33v8.34"/>
<path d="M273.33 435.5h8.34M277.5 431.33v8.34"/>
<path d="M269.33 441.5h8.34M273.5 437.33v8.34"/>
<path d="M254.33 430.5h8.34M258.5 426.33v8.34"/>
<path d="M303.33 436.5h8.34M307.5 432.33v8.34"/>
<path d="M300.33 437.5h8.34M304.5 433.33v8.34"/>
<path d="M313.33 436.5h8.34M317.5 432.33v8.34"/>
<path d="M289.33 433.5h8.34M293.5 429.33v8.34"/>
<path d="M290.33 437.5h8.34M294.5 433.33v8.34"/>
<path d="M275.33 439.5h8.34M279.5 435.33v8.34"/>
<path d="M294.33 442.5h8.34M298.5 438.33v8.34"/>
<path d="M282.33 438.5h8.34M286.5 434.33v8.34"/>
<path d="M279.33 438.5h8.34M283.5 434.33v8.34"/>
<path d="M327.33 439.5h8.34M331.5 435.33v8.34"/>
<path d="M292.33 444.5h8.34M296.5 440.33v8.34"/>
<path d="M273.33 442.5h8.34M277.5 438.33v8.34"/>
<path d="M319.33 438.5h8.34M323.5 434.33v8.34"/>
<path d="M261.33 447.5h8.34M265.5 443.33v8.34"/>
<path d="M287.33 442.5h8.34M291.5 438.33v8.34"/>
<path d="M251.33 435.5h8.34M255.5 431.33v8.34"/>
<path d="M315.33 442.5h8.34M319.5 438.33v8.34"/>
<path d="M256.33 440.5h8.34M260.5 436.33v8.34"/>
<path d="M316.33 450.5h8.34M320.5 446.33v8.34"/>
<path d="M260.33 436.5h8.34M264.5 432.33v8.34"/>
<path d="M310.33 442.5h8.34M314.5 438.33v8.34"/>
<path d="M304.33 443.5h8.34M308.5 439.33v8.34"/>
<path d="M295.33 432.5h8.34M299.5 428.33v8.34"/>
<path d="M316.33 438.5h8.34M320.5 434.33v8.34"/>
<path d="M291.33 431.5h8.34M295.5 427.33v8.34"/>
<path d="M320.33 436.5h8.34M324.5 432.33v8.34"/>
<path d="M258.33 429.5h8.34M262.5 425.33v8.34"/>
<path d="M328.33 446.5h8.34M332.5 442.33v8.34"/>
<path d="M301.33 439.5h8.34M305.5 435.33v8.34"/>
<path d="M293.33 444.5h8.34M297.5 440.33v8.34"/>
<path d="M285.33 437.5h8.34M289.5 433.33v8.34"/>
<path d="M320.33 443.5h8.34M324.5 439.33v8.34"/>
<path d="M282.33 434.5h8.34M286.5 430.33v8.34"/>
<path d="M288.33 432.5h8.34M292.5 428.33v8.34"/>
<path d="M273.33 440.5h8.34M277.5 436.33v8.34"/>
<path d="M283.33 434.5h8.34M287.5 430.33v8.34"/>
<path d="M276.33 437.5h8.34M280.5 433.33v8.34"/>
<path d="M320.33 442.5h8.34M324.5 438.33v8.34"/>
<path d="M288.33 434.5h8.34M292.5 430.33v8.34"/>
<path d="M263.33 438.5h8.34M267.5 434.33v8.34"/>
<path d="M300.33 441.5h8.34M304.5 437.33v8.34"/>
<path d="M301.33 447.5h8.34M305.5 443.33v8.34"/>
<path d="M276.33 444.5h8.34M280.5 440.33v8.34"/>
<path d="M326.33 444.5h8.34M330.5 440.33v8.34"/>
<path d="M265.33 429.5h8.34M269.5 425.33v8.34"/>
<path d="M286.33 439.5h8.34M290.5 435.33v8.34"/>
<path d="M250.33 438.5h8.34M254.5 434.33v8.34"/>
<path d="M299.33 428.5h8.34M303.5 424.33v8.34"/>
<path d="M319.33 439.5h8.34M323.5 435.33v8.34"/>
<path d="M297.33 444.5h8.34M301.5 440.33v8.34"/>
<path d="M295.33 438.5h8.34M299.5 434.33v8.34"/>
<path d="M311.33 435.5h8.34M315.5 431.33v8.34"/>
<path d="M302.33 441.5h8.34M306.5 437.33v8.34"/>
<path d="M279.33 445.5h8.34M283.5 441.33v8.34"/>
<path d="M295.33 436.5h8.34M299.5 432.33v8.34"/>
<path d="M255.33 435.5h8.34M259.5 431.33v8.34"/>
<path d="M299.33 442.5h8.34M303.5 438.33v8.34"/>
<path d="M300.33 447.5h8.34M304.5 443.33v8.34"/>
<path d="M292.33 431.5h8.34M296.5 427.33v8.34"/>
<path d="M287.33 428.5h8.34M291.5 424.33v8.34"/>
<path d="M278.33 428.5h8.34M282.5 424.33v8.34"/>
<path d="M296.33 440.5h8.34M300.5 436.33v8.34"/>
<path d="M276.33 436.5h8.34M280.5 432.33v8.34"/>
<path d="M338.33 441.5h8.34M342.5 437.33v8.34"/>
<path d="M256.33 434.5h8.34M260.5 430.33v8.34"/>
<path d="M330.33 435.5h8.34M334.5 431.33v8.34"/>
<path d="M340.33 431.5h8.34M344.5 427.33v8.34"/>
<path d="M330.33 436.5h8.34M334.5 432.33v8.34"/>
<path d="M273.33 440.5h8.34M277.5 436.33v8.34"/>
<path d="M294.33 436.5h8.34M298.5 432.33v8.34"/>
<path d="M263.33 438.5h8.34M267.5 434.33v8.34"/>
<path d="M305.33 435.5h8.34M309.5 431.33v8.34"/>
<path d="M340.33 436.5h8.34M344.5 432.33v8.34"/>
<path d="M306.33 443.5h8.34M310.5 439.33v8.34"/>
<path d="M320.33 440.5h8.34M324.5 436.33v8.34"/>
<path d="M275.33 438.5h8.34M279.5 434.33v8.34"/>
<path d="M274.33 438.5h8.34M278.5 434.33v8.34"/>
<path d="M326.33 433.5h8.34M330.5 429.33v8.34"/>
<path d="M264.33 435.5h8.34M268.5 431.33v8.34"/>
<path d="M293.33 435.5h8.34M297.5 431.33v8.34"/>
<path d="M307.33 437.5h8.34M311.5 433.33v8.34"/>
<path d="M296.33 444.5h8.34M300.5 440.33v8.34"/>
<path d="M285.33 438.5h8.34M289.5 434.33v8.34"/>
<path d="M257.33 443.5h8.34M261.5 439.33v8.34"/>
<path d="M256.33 445.5h8.34M260.5 441.33v8.34"/>
<path d="M255.33 441.5h8.34M259.5 437.33v8.34"/>
<path d="M324.33 443.5h8.34M328.5 439.33v8.34"/>
<path d="M304.33 439.5h8.34M308.5 435.33v8.34"/>
<path d="M247.33 437.5h8.34M251.5 433.33v8.34"/>
<path d="M319.33 435.5h8.34M323.5 431.33v8.34"/>
<path d="M279.33 445.5h8.34M283.5 441.33v8.34"/>
<path d="M262.33 438.5h8.34M266.5 434.33v8.34"/>
<path d="M331.33 441.5h8.34M335.5 437.33v8.34"/>
<path d="M301.33 436.5h8.34M305.5 432.33v8.34"/>
<path d="M282.33 442.5h8.34M286.5 438.33v8.34"/>
<path d="M251.33 443.5h8.34M255.5 439.33v8.34"/>
<path d="M337.33 435.5h8.34M341.5 431.33v8.34"/>
<path d="M287.33 436.5h8.34M291.5 432.33v8.34"/>
<path d="M250.33 436.5h8.34M254.5 432.33v8.34"/>
<path d="M334.33 441.5h8.34M338.5 437.33v8.34"/>
<path d="M331.33 435.5h8.34M335.5 431.33v8.34"/>
<path d="M323.33 436.5h8.34M327.5 432.33v8.34"/>
<path d="M337.33 444.5h8.34M341.5 440.33v8.34"/>
<path d="M293.33 442.5h8.34M297.5 438.33v8.34"/>
<path d="M283.33 437.5h8.34M287.5 433.33v8.34"/>
<path d="M314.33 439.5h8.34M318.5 435.33v8.34"/>
<path d="M329.33 442.5h8.34M333.5 438.33v8.34"/>
<path d="M292.33 439.5h8.34M296.5 435.33v8.34"/>
<path d="M262.33 435.5h8.34M266.5 431.33v8.34"/>
<path d="M280.33 443.5h8.34M284.5 439.33v8.34"/>
<path d="M273.33 450.5h8.34M277.5 446.33v8.34"/>
<path d="M299.33 443.5h8.34M303.5 439.33v8.34"/>
<path d="M282.33 442.5h8.34M286.5 438.33v8.34"/>
<path d="M284.33 441.5h8.34M288.5 437.33v8.34"/>
<path d="M324.33 439.5h8.34M328.5 435.33v8.34"/>
<path d="M279.33 439.5h8.34M283.5 435.33v8.34"/>
<path d="M272.33 441.5h8.34M276.5 437.33v8.34"/>
<path d="M268.33 445.5h8.34M272.5 441.33v8.34"/>
<path d="M278.33 440.5h8.34M282.5 436.33v8.34"/>
<path d="M260.33 438.5h8.34M264.5 434.33v8.34"/>
<path d="M271.33 437.5h8.34M275.5 433.33v8.34"/>
<path d="M325.33 442.5h8.34M329.5 438.33v8.34"/>
<path d="M325.33 442.5h8.34M329.5 438.33v8.34"/>
<path d="M322.33 441.5h8.34M326.5 437.33v8.34"/>
<path d="M314.33 442.5h8.34M318.5 438.33v8.34"/>
<path d="M281.33 441.5h8.34M285.5 437.33v8.34"/>
<path d="M336.33 438.5h8.34M340.5 434.33v8.34"/>
<path d="M293.33 439.5h8.34M297.5 435.33v8.34"/>
<path d="M258.33 443.5h8.34M262.5 439.33v8.34"/>
<path d="M313.33 438.5h8.34M317.5 434.33v8.34"/>
<path d="M301.33 448.5h8.34M305.5 444.33v8.34"/>
<path d="M280.33 439.5h8.34M284.5 435.33v8.34"/>
<path d="M266.33 445.5h8.34M270.5 441.33v8.34"/>
<path d="M328.33 442.5h8.34M332.5 438.33v8.34"/>
<path d="M297.33 442.5h8.34M301.5 438.33v8.34"/>
<path d="M271.33 439.5h8.34M275.5 435.33v8.34"/>
<path d="M308.33 434.5h8.34M312.5 430.33v8.34"/>
<path d="M299.33 437.5h8.34M303.5 433.33v8.34"/>
<path d="M254.33 443.5h8.34M258.5 439.33v8.34"/>
<path d="M262.33 441.5h8.34M266.5 437.33v8.34"/>
<path d="M308.33 435.5h8.34M312.5 431.33v8.34"/>
<path d="M256.33 435.5h8.34M260.5 431.33v8.34"/>
<path d="M293.33 437.5h8.34M297.5 433.33v8.34"/>
<path d="M274.33 442.5h8.34M278.5 438.33v8.34"/>
<path d="M267.33 440.5h8.34M271.5 436.33v8.34"/>
<path d="M257.33 438.5h8.34M261.5 434.33v8.34"/>
<path d="M284.33 435.5h8.34M288.5 431.33v8.34"/>
<path d="M332.33 440.5h8.34M336.5 436.33v8.34"/>
<path d="M327.33 429.5h8.34M331.5 425.33v8.34"/>
<path d="M258.33 438.5h8.34M262.5 434.33v8.34"/>
<path d="M310.33 440.5h8.34M314.5 436.33v8.34"/>
<path d="M309.33 436.5h8.34M313.5 432.33v8.34"/>
<path d="M308.33 442.5h8.34M312.5 438.33v8.34"/>
<path d="M312.33 439.5h8.34M316.5 435.33v8.34"/>
<path d="M279.33 447.5h8.34M283.5 443.33v8.34"/>
<path d="M305.33 439.5h8.34M309.5 435.33v8.34"/>
<path d="M332.33 441.5h8.34M336.5 437.33v8.34"/>
<path d="M315.33 438.5h8.34M319.5 434.33v8.34"/>
<path d="M249.33 437.5h8.34M253.5 433.33v8.34"/>
<path d="M261.33 440.5h8.34M265.5 436.33v8.34"/>
<path d="M282.33 442.5h8.34M286.5 438.33v8.34"/>
<path d="M249.33 436.5h8.34M253.5 432.33v8.34"/>
<path d="M263.33 444.5h8.34M267.5 440.33v8.34"/>
<path d="M325.33 432.5h8.34M329.5 428.33v8.34"/>
<path d="M270.33 435.5h8.34M274.5 431.33v8.34"/>
<path d="M287.33 437.5h8.34M291.5 433.33v8.34"/>
<path d="M246.33 435.5h8.34M250.5 431.33v8.34"/>
<path d="M325.33 439.5h8.34M329.5 435.33v8.34"/>
<path d="M250.33 435.5h8.34M254.5 431.33v8.34"/>
<path d="M327.33 437.5h8.34M331.5 433.33v8.34"/>
<path d="M269.33 438.5h8.34M273.5 434.33v8.34"/>
<path d="M256.33 439.5h8.34M260.5 435.33v8.34"/>
<path d="M332.33 436.5h8.34M336.5 432.33v8.34"/>
<path d="M317.33 444.5h8.34M321.5 440.33v8.34"/>
<path d="M283.33 442.5h8.34M287.5 438.33v8.34"/>
<path d="M317.33 440.5h8.34M321.5 436.33v8.34"/>
<path d="M254.33 435.5h8.34M258.5 431.33v8.34"/>
<path d="M335.33 429.5h8.34M339.5 425.33v8.34"/>
<path d="M311.33 443.5h8.34M315.5 439.33v8.34"/>
<path d="M316.33 442.5h8.34M320.5 438.33v8.34"/>
<path d="M289.33 433.5h8.34M293.5 429.33v8.34"/>
<path d="M251.33 437.5h8.34M255.5 433.33v8.34"/>
<path d="M294.33 434.5h8.34M298.5 430.33v8.34"/>
<path d="M334.33 444.5h8.34M338.5 440.33v8.34"/>
<path d="M250.33 444.5h8.34M254.5 440.33v8.34"/>
<path d="M312.33 440.5h8.34M316.5 436.33v8.34"/>
<path d="M297.33 435.5h8.34M301.5 431.33v8.34"/>
<path d="M338.33 435.5h8.34M342.5 431.33v8.34"/>
<path d="M269.33 434.5h8.34M273.5 430.33v8.34"/>
<path d="M251.33 436.5h8.34M255.5 432.33v8.34"/>
<path d="M265.33 442.5h8.34M269.5 438.33v8.34"/>
<path d="M275.33 443.5h8.34M279.5 439.33v8.34"/>
<path d="M309.33 444.5h8.34M313.5 440.33v8.34"/>
<path d="M268.33 439.5h8.34M272.5 435.33v8.34"/>
<path d="M288.33 444.5h8.34M292.5 440.33v8.34"/>
<path d="M334.33 436.5h8.34M338.5 432.33v8.34"/>
<path d="M330.33 442.5h8.34M334.5 438.33v8.34"/>
<path d="M259.33 435.5h8.34M263.5 431.33v8.34"/>
<path d="M323.33 437.5h8.34M327.5 433.33v8.34"/>
<path d="M298.33 439.5h8.34M302.5 435.33v8.34"/>
<path d="M309.33 436.5h8.34M313.5 432.33v8.34"/>
<path d="M302.33 431.5h8.34M306.5 427.33v8.34"/>
<path d="M324.33 440.5h8.34M328.5 436.33v8.34"/>
<path d="M256.33 437.5h8.34M260.5 433.33v8.34"/>
<path d="M265.33 443.5h8.34M269.5 439.33v8.34"/>
<path d="M251.33 438.5h8.34M255.5 434.33v8.34"/>
<path d="M312.33 441.5h8.34M316.5 437.33v8.34"/>
<path d="M288.33 442.5h8.34M292.5 438.33v8.34"/>
<path d="M290.33 441.5h8.34M294.5 437.33v8.34"/>
<path d="M280.33 439.5h8.34M284.5 435.33v8.34"/>
<path d="M247.33 440.5h8.34M251.5 436.33v8.34"/>
<path d="M340.33 439.5h8.34M344.5 435.33v8.34"/>
<path d="M314.33 437.5h8.34M318.5 433.33v8.34"/>
<path d="M339.33 437.5h8.34M343.5 433.33v8.34"/>
<path d="M292.33 438.5h8.34M296.5 434.33v8.34"/>
<path d="M287.33 441.5h8.34M291.5 437.33v8.34"/>
<path d="M246.33 444.5h8.34M250.5 440.33v8.34"/>
<path d="M333.33 435.5h8.34M337.5 431.33v8.34"/>
<path d="M334.33 434.5h8.34M338.5 430.33v8.34"/>
<path d="M307.33 438.5h8.34M311.5 434.33v8.34"/>
<path d="M259.33 442.5h8.34M263.5 438.33v8.34"/>
<path d="M248.33 440.5h8.34M252.5 436.33v8.34"/>
<path d="M274.33 430.5h8.34M278.5 426.33v8.34"/>
<path d="M263.33 433.5h8.34M267.5 429.33v8.34"/>
<path d="M334.33 432.5h8.34M338.5 428.33v8.34"/>
<path d="M262.33 440.5h8.34M266.5 436.33v8.34"/>
<path d="M316.33 430.5h8.34M320.5 426.33v8.34"/>
<path d="M277.33 442.5h8.34M281.5 438.33v8.34"/>
<path d="M276.33 446.5h8.34M280.5 442.33v8.34"/>
<path d="M281.33 434.5h8.34M285.5 430.33v8.34"/>
<path d="M324.33 437.5h8.34M328.5 433.33v8.34"/>
<path d="M268.33 444.5h8.34M272.5 440.33v8.34"/>
<path d="M305.33 440.5h8.34M309.5 436.33v8.34"/>
<path d="M323.33 436.5h8.34M327.5 432.33v8.34"/>
<path d="M335.33 429.5h8.34M339.5 425.33v8.34"/>
<path d="M292.33 436.5h8.34M296.5 432.33v8.34"/>
<path d="M274.33 439.5h8.34M278.5 435.33v8.34"/>
<path d="M301.33 445.5h8.34M305.5 441.33v8.34"/>
<path d="M261.33 442.5h8.34M265.5 438.33v8.34"/>
<path d="M288.33 440.5h8.34M292.5 436.33v8.34"/>
<path d="M249.33 438.5h8.34M253.5 434.33v8.34"/>
<path d="M287.33 441.5h8.34M291.5 437.33v8.34"/>
<path d="M246.33 445.5h8.34M250.5 441.33v8.34"/>
<path d="M325.33 443.5h8.34M329.5 439.33v8.34"/>
<path d="M286.33 432.5h8.34M290.5 428.33v8.34"/>
<path d="M272.33 436.5h8.34M276.5 432.33v8.34"/>
<path d="M286.33 434.5h8.34M290.5 430.33v8.34"/>
<path d="M278.33 432.5h8.34M282.5 428.33v8.34"/>
<path d="M324.33 441.5h8.34M328.5 437.33v8.34"/>
<path d="M331.33 440.5h8.34M335.5 436.33v8.34"/>
<path d="M288.33 442.5h8.34M292.5 438.33v8.34"/>
<path d="M299.33 437.5h8.34M303.5 433.33v8.34"/>
<path d="M254.33 441.5h8.34M258.5 437.33v8.34"/>
<path d="M276.33 427.5h8.34M280.5 423.33v8.34"/>
<path d="M332.33 441.5h8.34M336.5 437.33v8.34"/>
<path d="M328.33 450.5h8.34M332.5 446.33v8.34"/>
<path d="M304.33 437.5h8.34M308.5 433.33v8.34"/>
<path d="M323.33 445.5h8.34M327.5 441.33v8.34"/>
<path d="M303.33 441.5h8.34M307.5 437.33v8.34"/>
<path d="M274.33 428.5h8.34M278.5 424.33v8.34"/>
<path d="M291.33 434.5h8.34M295.5 430.33v8.34"/>
<path d="M307.33 437.5h8.34M311.5 433.33v8.34"/>
<path d="M330.33 442.5h8.34M334.5 438.33v8.34"/>
<path d="M248.33 441.5h8.34M252.5 437.33v8.34"/>
<path d="M288.33 445.5h8.34M292.5 441.33v8.34"/>
<path d="M254.33 436.5h8.34M258.5 432.33v8.34"/>
<path d="M301.33 435.5h8.34M305.5 431.33v8.34"/>
<path d="M285.33 433.5h8.34M289.5 429.33v8.34"/>
<path d="M283.33 437.5h8.34M287.5 433.33v8.34"/>
<path d="M256.33 442.5h8.34M260.5 438.33v8.34"/>
<path d="M298.33 447.5h8.34M302.5 443.33v8.34"/>
<path d="M256.33 441.5h8.34M260.5 437.33v8.34"/>
<path d="M255.33 436.5h8.34M259.5 432.33v8.34"/>
<path d="M296.33 438.5h8.34M300.5 434.33v8.34"/>
<path d="M298.33 444.5h8.34M302.5 440.33v8.34"/>
<path d="M267.33 437.5h8.34M271.5 433.33v8.34"/>
<path d="M294.33 438.5h8.34M298.5 434.33v8.34"/>
<path d="M301.33 443.5h8.34M305.5 439.33v8.34"/>
<path d="M252.33 441.5h8.34M256.5 437.33v8.34"/>
<path d="M287.33 442.5h8.34M291.5 438.33v8.34"/>
<path d="M313.33 434.5h8.34M317.5 430.33v8.34"/>
<path d="M317.33 449.5h8.34M321.5 445.33v8.34"/>
<path d="M314.33 448.5h8.34M318.5 444.33v8.34"/>
<path d="M255.33 441.5h8.34M259.5 437.33v8.34"/>
<path d="M262.33 435.5h8.34M266.5 431.33v8.34"/>
<path d="M337.33 431.5h8.34M341.5 427.33v8.34"/>
<path d="M258.33 436.5h8.34M262.5 432.33v8.34"/>
<path d="M319.33 442.5h8.34M323.5 438.33v8.34"/>
<path d="M281.33 440.5h8.34M285.5 436.33v8.34"/>
<path d="M247.33 436.5h8.34M251.5 432.33v8.34"/>
<path d="M274.33 437.5h8.34M278.5 433.33v8.34"/>
<path d="M313.33 430.5h8.34M317.5 426.33v8.34"/>
<path d="M305.33 443.5h8.34M309.5 439.33v8.34"/>
<path d="M328.33 429.5h8.34M332.5 425.33v8.34"/>
<path d="M328.33 435.5h8.34M332.5 431.33v8.34"/>
<path d="M261.33 438.5h8.34M265.5 434.33v8.34"/>
<path d="M318.33 434.5h8.34M322.5 430.33v8.34"/>
<path d="M310.33 440.5h8.34M314.5 436.33v8.34"/>
<path d="M281.33 436.5h8.34M285.5 432.33v8.34"/>
<path d="M316.33 445.5h8.34M320.5 441.33v8.34"/>
<path d="M250.33 436.5h8.34M254.5 432.33v8.34"/>
<path d="M303.33 443.5h8.34M307.5 439.33v8.34"/>
<path d="M322.33 442.5h8.34M326.5 438.33v8.34"/>
<path d="M256.33 445.5h8.34M260.5 441.33v8.34"/>
<path d="M270.33 435.5h8.34M274.5 431.33v8.34"/>
<path d="M264.33 430.5h8.34M268.5 426.33v8.34"/>
<path d="M301.33 441.5h8.34M305.5 437.33v8.34"/>
<path d="M256.33 441.5h8.34M260.5 437.33v8.34"/>
<path d="M322.33 439.5h8.34M326.5 435.33v8.34"/>
<path d="M263.33 435.5h8.34M267.5 431.33v8.34"/>
<path d="M311.33 437.5h8.34M315.5 433.33v8.34"/>
<path d="M282.33 444.5h8.34M286.5 440.33v8.34"/>
<path d="M297.33 446.5h8.34M301.5 442.33v8.34"/>
<path d="M311.33 442.5h8.34M315.5 438.33v8.34"/>
<path d="M247.33 428.5h8.34M251.5 424.33v8.34"/>
<path d="M278.33 442.5h8.34M282.5 438.33v8.34"/>
<path d="M328.33 443.5h8.34M332.5 439.33v8.34"/>
<path d="M322.33 441.5h8.34M326.5 437.33v8.34"/>
<path d="M323.33 439.5h8.34M327.5 435.33v8.34"/>
<path d="M310.33 435.5h8.34M314.5 431.33v8.34"/>
<path d="M261.33 442.5h8.34M265.5 438.33v8.34"/>
<path d="M326.33 431.5h8.34M330.5 427.33v8.34"/>
<path d="M304.33 444.5h8.34M308.5 440.33v8.34"/>
<path d="M253.33 437.5h8.34M257.5 433.33v8.34"/>
<path d="M330.33 441.5h8.34M334.5 437.33v8.34"/>
<path d="M301.33 441.5h8.34M305.5 437.33v8.34"/>
<path d="M280.33 439.5h8.34M284.5 435.33v8.34"/>
<path d="M290.33 435.5h8.34M294.5 431.33v8.34"/>
<path d="M279.33 436.5h8.34M283.5 432.33v8.34"/>
<path d="M246.33 435.5h8.34M250.5 431.33v8.34"/>
<path d="M247.33 437.5h8.34M251.5 433.33v8.34"/>
<path d="M289.33 440.5h8.34M293.5 436.33v8.34"/>
<path d="M259.33 438.5h8.34M263.5 434.33v8.34"/>
<path d="M309.33 438.5h8.34M313.5 434.33v8.34"/>
<path d="M293.33 442.5h8.34M297.5 438.33v8.34"/>
<path d="M312.33 445.5h8.34M316.5 441.33v8.34"/>
<path d="M274.33 435.5h8.34M278.5 431.33v8.34"/>
<path d="M318.33 437.5h8.34M322.5 433.33v8.34"/>
<path d="M288.33 434.5h8.34M292.5 430.33v8.34"/>
<path d="M333.33 430.5h8.34M337.5 426.33v8.34"/>
<path d="M298.33 431.5h8.34M302.5 427.33v8.34"/>
<path d="M305.33 441.5h8.34M309.5 437.33v8.34"/>
<path d="M323.33 426.5h8.34M327.5 422.33v8.34"/>
<path d="M336.33 434.5h8.34M340.5 430.33v8.34"/>
<path d="M304.33 447.5h8.34M308.5 443.33v8.34"/>
<path d="M312.33 430.5h8.34M316.5 426.33v8.34"/>
<path d="M304.33 433.5h8.34M308.5 429.33v8.34"/>
<path d="M298.33 436.5h8.34M302.5 432.33v8.34"/>
<path d="M327.33 440.5h8.34M331.5 436.33v8.34"/>
<path d="M298.33 438.5h8.34M302.5 434.33v8.34"/>
<path d="M314.33 442.5h8.34M318.5 438.33v8.34"/>
<path d="M308.33 440.5h8.34M312.5 436.33v8.34"/>
<path d="M346.33 438.5h8.34M350.5 434.33v8.34"/>
<path d="M297.33 439.5h8.34M301.5 435.33v8.34"/>
<path d="M301.33 435.5h8.34M305.5 431.33v8.34"/>
<path d="M316.33 439.5h8.34M320.5 435.33v8.34"/>
<path d="M309.33 442.5h8.34M313.5 438.33v8.34"/>
<path d="M311.33 430.5h8.34M315.5 426.33v8.34"/>
<path d="M327.33 435.5h8.34M331.5 431.33v8.34"/>
<path d="M332.33 434.5h8.34M336.5 430.33v8.34"/>
<path d="M322.33 439.5h8.34M326.5 435.33v8.34"/>
<path d="M272.33 429.5h8.34M276.5 425.33v8.34"/>
<path d="M296.33 446.5h8.34M300.5 442.33v8.34"/>
<path d="M284.33 443.5h8.34M288.5 439.33v8.34"/>
<path d="M330.33 440.5h8.34M334.5 436.33v8.34"/>
<path d="M324.33 435.5h8.34M328.5 431.33v8.34"/>
<path d="M313.33 439.5h8.34M317.5 435.33v8.34"/>
<path d="M320.33 442.5h8.34M324.5 438.33v8.34"/>
<path d="M310.33 433.5h8.34M314.5 429.33v8.34"/>
<path d="M305.33 440.5h8.34M309.5 436.33v8.34"/>
<path d="M288.33 430.5h8.34M292.5 426.33v8.34"/>
<path d="M307.33 434.5h8.34M311.5 430.33v8.34"/>
<path d="M309.33 422.5h8.34M313.5 418.33v8.34"/>
<path d="M308.33 436.5h8.34M312.5 432.33v8.34"/>
<path d="M325.33 426.5h8.34M329.5 422.33v8.34"/>
<path d="M309.33 440.5h8.34M313.5 436.33v8.34"/>
<path d="M321.33 444.5h8.34M325.5 440.33v8.34"/>
<path d="M330.33 431.5h8.34M334.5 427.33v8.34"/>
<path d="M323.33 436.5h8.34M327.5 432.33v8.34"/>
<path d="M301.33 446.5h8.34M305.5 442.33v8.34"/>
<path d="M304.33 433.5h8.34M308.5 429.33v8.34"/>
<path d="M307.33 433.5h8.34M311.5 429.33v8.34"/>
<path d="M329.33 440.5h8.34M333.5 436.33v8.34"/>
<path d="M335.33 440.5h8.34M339.5 436.33v8.34"/>
<path d="M304.33 444.5h8.34M308.5 440.33v8.34"/>
<path d="M303.33 435.5h8.34M307.5 431.33v8.34"/>
<path d="M311.33 438.5h8.34M315.5 434.33v8.34"/>
<path d="M332.33 434.5h8.34M336.5 430.33v8.34"/>
<path d="M319.33 437.5h8.34M323.5 433.33v8.34"/>
<path d="M294.33 431.5h8.34M298.5 427.33v8.34"/>
<path d="M310.33 440.5h8.34M314.5 436.33v8.34"/>
<path d="M318.33 440.5h8.34M322.5 436.33v8.34"/>
<path d="M314.33 435.5h8.34M318.5 431.33v8.34"/>
<path d="M320.33 432.5h8.34M324.5 428.33v8.34"/>
<path d="M293.33 436.5h8.34M297.5 432.33v8.34"/>
<path d="M291.33 435.5h8.34M295.5 431.33v8.34"/>
<path d="M302.33 434.5h8.34M306.5 430.33v8.34"/>
<path d="M313.33 433.5h8.34M317.5 429.33v8.34"/>
<path d="M307.33 428.5h8.34M311.5 424.33v8.34"/>
<path d="M316.33 432.5h8.34M320.5 428.33v8.34"/>
<path d="M301.33 439.5h8.34M305.5 435.33v8.34"/>
<path d="M276.33 435.5h8.34M280.5 431.33v8.34"/>
<path d="M315.33 438.5h8.34M319.5 434.33v8.34"/>
<path d="M290.33 439.5h8.34M294.5 435.33v8.34"/>
<path d="M316.33 432.5h8.34M320.5 428.33v8.34"/>
<path d="M325.33 437.5h8.34M329.5 433.33v8.34"/>
<path d="M314.33 435.5h8.34M318.5 431.33v8.34"/>
<path d="M322.33 438.5h8.34M326.5 434.33v8.34"/>
<path d="M331.33 440.5h8.34M335.5 436.33v8.34"/>
<path d="M304.33 436.5h8.34M308.5 432.33v8.34"/>
<path d="M328.33 435.5h8.34M332.5 431.33v8.34"/>
<path d="M319.33 441.5h8.34M323.5 437.33v8.34"/>
<path d="M311.33 424.5h8.34M315.5 420.33v8.34"/>
<path d="M316.33 439.5h8.34M320.5 435.33v8.34"/>
<path d="M316.33 433.5h8.34M320.5 429.33v8.34"/>
<path d="M332.33 437.5h8.34M336.5 433.33v8.34"/>
<path d="M304.33 433.5h8.34M308.5 429.33v8.34"/>
<path d="M319.33 431.5h8.34M323.5 427.33v8.34"/>
<path d="M298.33 449.5h8.34M302.5 445.33v8.34"/>
<path d="M334.33 444.5h8.34M338.5 440.33v8.34"/>
<path d="M335.33 441.5h8.34M339.5 437.33v8.34"/>
<path d="M287.33 444.5h8.34M291.5 440.33v8.34"/>
<path d="M333.33 440.5h8.34M337.5 436.33v8.34"/>
<path d="M283.33 445.5h8.34M287.5 441.33v8.34"/>
<path d="M335.33 435.5h8.34M339.5 431.33v8.34"/>
<path d="M315.33 442.5h8.34M319.5 438.33v8.34"/>
<path d="M312.33 444.5h8.34M316.5 440.33v8.34"/>
<path d="M315.33 442.5h8.34M319.5 438.33v8.34"/>
<path d="M315.33 429.5h8.34M319.5 425.33v8.34"/>
<path d="M318.33 445.5h8.34M322.5 441.33v8.34"/>
<path d="M331.33 447.5h8.34M335.5 443.33v8.34"/>
<path d="M322.33 434.5h8.34M326.5 430.33v8.34"/>
<path d="M314.33 426.5h8.34M318.5 422.33v8.34"/>
<path d="M311.33 443.5h8.34M315.5 439.33v8.34"/>
<path d="M280.33 439.5h8.34M284.5 435.33v8.34"/>
<path d="M326.33 445.5h8.34M330.5 441.33v8.34"/>
<path d="M299.33 434.5h8.34M303.5 430.33v8.34"/>
<path d="M284.33 432.5h8.34M288.5 428.33v8.34"/>
<path d="M322.33 450.5h8.34M326.5 446.33v8.34"/>
<path d="M296.33 446.5h8.34M300.5 442.33v8.34"/>
<path d="M320.33 435.5h8.34M324.5 431.33v8.34"/>
<path d="M348.33 423.5h8.34M352.5 419.33v8.34"/>
<path d="M312.33 439.5h8.34M316.5 435.33v8.34"/>
<path d="M347.33 448.5h8.34M351.5 444.33v8.34"/>
<path d="M349.33 438.5h8.34M353.5 434.33v8.34"/>
<path d="M329.33 445.5h8.34M333.5 441.33v8.34"/>
<path d="M321.33 440.5h8.34M325.5 436.33v8.34"/>
<path d="M311.33 435.5h8.34M315.5 431.33v8.34"/>
<path d="M294.33 449.5h8.34M298.5 445.33v8.34"/>
<path d="M307.33 425.5h8.34M311.5 421.33v8.34"/>
<path d="M318.33 437.5h8.34M322.5 433.33v8.34"/>
<path d="M316.33 448.5h8.34M320.5 444.33v8.34"/>
<path d="M312.33 436.5h8.34M316.5 432.33v8.34"/>
<path d="M302.33 437.5h8.34M306.5 433.33v8.34"/>
<path d="M307.33 439.5h8.34M311.5 435.33v8.34"/>
<path d="M362.33 440.5h8.34M366.5 436.33v8.34"/>
<path d="M300.33 449.5h8.34M304.5 445.33v8.34"/>
<path d="M327.33 442.5h8.34M331.5 438.33v8.34"/>
<path d="M325.33 442.5h8.34M329.5 438.33v8.34"/>
<path d="M324.33 446.5h8.34M328.5 442.33v8.34"/>
<path d="M329.33 445.5h8.34M333.5 441.33v8.34"/>
<path d="M306.33 437.5h8.34M310.5 433.33v8.34"/>
<path d="M302.33 443.5h8.34M306.5 439.33v8.34"/>
<path d="M326.33 435.5h8.34M330.5 431.33v8.34"/>
<path d="M323.33 453.5h8.34M327.5 449.33v8.34"/>
<path d="M333.33 431.5h8.34M337.5 427.33v8.34"/>
<path d="M312.33 441.5h8.34M316.5 437.33v8.34"/>
<path d="M313.33 440.5h8.34M317.5 436.33v8.34"/>
<path d="M332.33 439.5h8.34M336.5 435.33v8.34"/>
<path d="M296.33 442.5h8.34M300.5 438.33v8.34"/>
<path d="M312.33 438.5h8.34M316.5 434.33v8.34"/>
<path d="M305.33 429.5h8.34M309.5 425.33v8.34"/>
<path d="M294.33 435.5h8.34M298.5 431.33v8.34"/>
<path d="M297.33 422.5h8.34M301.5 418.33v8.34"/>
<path d="M331.33 431.5h8.34M335.5 427.33v8.34"/>
<path d="M302.33 441.5h8.34M306.5 437.33v8.34"/>
<path d="M276.33 445.5h8.34M280.5 441.33v8.34"/>
<path d="M302.33 441.5h8.34M306.5 437.33v8.34"/>
<path d="M306.33 439.5h8.34M310.5 435.33v8.34"/>
<path d="M315.33 437.5h8.34M319.5 433.33v8.34"/>
<path d="M285.33 429.5h8.34M289.5 425.33v8.34"/>
<path d="M313.33 446.5h8.34M317.5 442.33v8.34"/>
<path d="M305.33 441.5h8.34M309.5 437.33v8.34"/>
<path d="M316.33 440.5h8.34M320.5 436.33v8.34"/>
<path d="M329.33 429.5h8.34M333.5 425.33v8.34"/>
<path d="M318.33 436.5h8.34M322.5 432.33v8.34"/>
<path d="M309.33 433.5h8.34M313.5 429.33v8.34"/>
<path d="M301.33 431.5h8.34M305.5 427.33v8.34"/>
<path d="M296.33 452.5h8.34M300.5 448.33v8.34"/>
<path d="M340.33 438.5h8.34M344.5 434.33v8.34"/>
<path d="M325.33 432.5h8.34M329.5 428.33v8.34"/>
<path d="M270.33 427.5h8.34M274.5 423.33v8.34"/>
<path d="M345.33 434.5h8.34M349.5 430.33v8.34"/>
<path d="M349.33 434.5h8.34M353.5 430.33v8.34"/>
<path d="M359.33 435.5h8.34M363.5 431.33v8.34"/>
<path d="M356.33 443.5h8.34M360.5 439.33v8.34"/>
<path d="M358.33 436.5h8.34M362.5 432.33v8.34"/>
<path d="M354.33 446.5h8.34M358.5 442.33v8.34"/>
<path d="M345.33 437.5h8.34M349.5 433.33v8.34"/>
<path d="M365.33 437.5h8.34M369.5 433.33v8.34"/>
<path d="M352.33 438.5h8.34M356.5 434.33v8.34"/>
<path d="M352.33 434.5h8.34M356.5 430.33v8.34"/>
<path d="M345.33 447.5h8.34M349.5 443.33v8.34"/>
<path d="M354.33 448.5h8.34M358.5 444.33v8.34"/>
<path d="M354.33 430.5h8.34M358.5 426.33v8.34"/>
<path d="M345.33 438.5h8.34M349.5 434.33v8.34"/>
<path d="M343.33 442.5h8.34M347.5 438.33v8.34"/>
<path d="M357.33 435.5h8.34M361.5 431.33v8.34"/>
<path d="M362.33 447.5h8.34M366.5 443.33v8.34"/>
<path d="M340.33 433.5h8.34M344.5 429.33v8.34"/>
<path d="M350.33 444.5h8.34M354.5 440.33v8.34"/>
<path d="M342.33 431.5h8.34M346.5 427.33v8.34"/>
<path d="M343.33 439.5h8.34M347.5 435.33v8.34"/>
<path d="M349.33 442.5h8.34M353.5 438.33v8.34"/>
<path d="M362.33 434.5h8.34M366.5 430.33v8.34"/>
<path d="M341.33 439.5h8.34M345.5 435.33v8.34"/>
<path d="M350.33 447.5h8.34M354.5 443.33v8.34"/>
<path d="M239.33 366.5h8.34M243.5 362.33v8.34"/>
<path d="M211.33 398.5h8.34M215.5 394.33v8.34"/>
<path d="M214.33 406.5h8.34M218.5 402.33v8.34"/>
<path d="M236.33 415.5h8.34M240.5 411.33v8.34"/>
<path d="M226.33 418.5h8.34M230.5 414.33v8.34"/>
<path d="M184.33 421.5h8.34M188.5 417.33v8.34"/>
<path d="M207.33 425.5h8.34M211.5 421.33v8.34"/>
<path d="M218.33 425.5h8.34M222.5 421.33v8.34"/>
<path d="M228.33 423.5h8.34M232.5 419.33v8.34"/>
<path d="M177.33 423.5h8.34M181.5 419.33v8.34"/>
<path d="M239.33 457.5h8.34M243.5 453.33v8.34"/>
<path d="M209.33 425.5h8.34M213.5 421.33v8.34"/>
</g>
<g stroke="#0000ff" stroke-width="1.1" fill="none">
<path d="M239.33 362.33l8.34 8.34M239.33 370.67l8.34 -8.34"/>
<path d="M211.33 394.33l8.34 8.34M211.33 402.67l8.34 -8.34"/>
<path d="M214.33 402.33l8.34 8.34M214.33 410.67l8.34 -8.34"/>
<path d="M236.33 411.33l8.34 8.34M236.33 419.67l8.34 -8.34"/>
<path d="M226.33 414.33l8.34 8.34M226.33 422.67l8.34 -8.34"/>
<path d="M184.33 417.33l8.34 8.34M184.33 425.67l8.34 -8.34"/>
<path d="M207.33 421.33l8.34 8.34M207.33 429.67l8.34 -8.34"/>
<path d="M218.33 421.33l8.34 8.34M218.33 429.67l8.34 -8.34"/>
<path d="M228.33 419.33l8.34 8.34M228.33 427.67l8.34 -8.34"/>
<path d="M177.33 419.33l8.34 8.34M177.33 427.67l8.34 -8.34"/>
<path d="M239.33 453.33l8.34 8.34M239.33 461.67l8.34 -8.34"/>
<path d="M209.33 421.33l8.34 8.34M209.33 429.67l8.34 -8.34"/>
</g>
<g fill="#bf00bf" stroke="#000" stroke-width="0.7">
<circle cx="211.5" cy="439.5" r="4.17"/>
<circle cx="192.5" cy="443.5" r="4.17"/>
<circle cx="206.5" cy="440.5" r="4.17"/>
<circle cx="197.5" cy="437.5" r="4.17"/>
<circle cx="204.5" cy="438.5" r="4.17"/>
<circle cx="183.5" cy="435.5" r="4.17"/>
<circle cx="194.5" cy="444.5" r="4.17"/>
<circle cx="200.5" cy="437.5" r="4.17"/>
<circle cx="237.5" cy="435.5" r="4.17"/>
<circle cx="209.5" cy="445.5" r="4.17"/>
<circle cx="222.5" cy="438.5" r="4.17"/>
<circle cx="206.5" cy="443.5" r="4.17"/>
<circle cx="201.5" cy="438.5" r="4.17"/>
<circle cx="224.5" cy="445.5" r="4.17"/>
<circle cx="205.5" cy="438.5" r="4.17"/>
<circle cx="228.5" cy="438.5" r="4.17"/>
<circle cx="225.5" cy="437.5" r="4.17"/>
<circle cx="206.5" cy="440.5" r="4.17"/>
<circle cx="214.5" cy="447.5" r="4.17"/>
<circle cx="220.5" cy="439.5" r="4.17"/>
<circle cx="212.5" cy="446.5" r="4.17"/>
<circle cx="209.5" cy="439.5" r="4.17"/>
<circle cx="239.5" cy="439.5" r="4.17"/>
<circle cx="214.5" cy="440.5" r="4.17"/>
<circle cx="235.5" cy="443.5" r="4.17"/>
<circle cx="230.5" cy="438.5" r="4.17"/>
<circle cx="218.5" cy="444.5" r="4.17"/>
<circle cx="232.5" cy="433.5" r="4.17"/>
<circle cx="235.5" cy="433.5" r="4.17"/>
<circle cx="226.5" cy="443.5" r="4.17"/>
<circle cx="227.5" cy="438.5" r="4.17"/>
<circle cx="191.5" cy="437.5" r="4.17"/>
<circle cx="199.5" cy="436.5" r="4.17"/>
<circle cx="218.5" cy="440.5" r="4.17"/>
<circle cx="202.5" cy="446.5" r="4.17"/>
<circle cx="199.5" cy="435.5" r="4.17"/>
<circle cx="206.5" cy="439.5" r="4.17"/>
<circle cx="214.5" cy="441.5" r="4.17"/>
<circle cx="206.5" cy="445.5" r="4.17"/>
<circle cx="202.5" cy="440.5" r="4.17"/>
<circle cx="208.5" cy="441.5" r="4.17"/>
<circle cx="203.5" cy="436.5" r="4.17"/>
<circle cx="233.5" cy="436.5" r="4.17"/>
<circle cx="220.5" cy="439.5" r="4.17"/>
<circle cx="242.5" cy="439.5" r="4.17"/>
<circle cx="210.5" cy="442.5" r="4.17"/>
<circle cx="218.5" cy="445.5" r="4.17"/>
<circle cx="214.5" cy="443.5" r="4.17"/>
<circle cx="226.5" cy="436.5" r="4.17"/>
<circle cx="243.5" cy="438.5" r="4.17"/>
<circle cx="224.5" cy="436.5" r="4.17"/>
<circle cx="240.5" cy="443.5" r="4.17"/>
<circle cx="236.5" cy="436.5" r="4.17"/>
<circle cx="197.5" cy="441.5" r="4.17"/>
<circle cx="203.5" cy="441.5" r="4.17"/>
<circle cx="203.5" cy="446.5" r="4.17"/>
<circle cx="245.5" cy="438.5" r="4.17"/>
<circle cx="223.5" cy="435.5" r="4.17"/>
<circle cx="212.5" cy="444.5" r="4.17"/>
<circle cx="210.5" cy="443.5" r="4.17"/>
<circle cx="216.5" cy="436.5" r="4.17"/>
<circle cx="204.5" cy="444.5" r="4.17"/>
<circle cx="214.5" cy="447.5" r="4.17"/>
<circle cx="188.5" cy="439.5" r="4.17"/>
<circle cx="238.5" cy="441.5" r="4.17"/>
<circle cx="191.5" cy="436.5" r="4.17"/>
<circle cx="244.5" cy="437.5" r="4.17"/>
<circle cx="243.5" cy="442.5" r="4.17"/>
<circle cx="185.5" cy="437.5" r="4.17"/>
<circle cx="211.5" cy="435.5" r="4.17"/>
<circle cx="230.5" cy="434.5" r="4.17"/>
<circle cx="233.5" cy="436.5" r="4.17"/>
<circle cx="188.5" cy="441.5" r="4.17"/>
<circle cx="233.5" cy="441.5" r="4.17"/>
<circle cx="224.5" cy="433.5" r="4.17"/>
<circle cx="219.5" cy="437.5" r="4.17"/>
<circle cx="206.5" cy="443.5" r="4.17"/>
<circle cx="193.5" cy="434.5" r="4.17"/>
<circle cx="243.5" cy="437.5" r="4.17"/>
<circle cx="190.5" cy="440.5" r="4.17"/>
<circle cx="217.5" cy="440.5" r="4.17"/>
<circle cx="190.5" cy="435.5" r="4.17"/>
<circle cx="238.5" cy="440.5" r="4.17"/>
<circle cx="243.5" cy="440.5" r="4.17"/>
<circle cx="233.5" cy="441.5" r="4.17"/>
<circle cx="182.5" cy="430.5" r="4.17"/>
<circle cx="190.5" cy="430.5" r="4.17"/>
<circle cx="196.5" cy="430.5" r="4.17"/>
<circle cx="202.5" cy="433.5" r="4.17"/>
<circle cx="213.5" cy="435.5" r="4.17"/>
<circle cx="222.5" cy="431.5" r="4.17"/>
<circle cx="230.5" cy="429.5" r="4.17"/>
<circle cx="239.5" cy="433.5" r="4.17"/>
<circle cx="189.5" cy="438.5" r="4.17"/>
<circle cx="195.5" cy="440.5" r="4.17"/>
<circle cx="203.5" cy="442.5" r="4.17"/>
<circle cx="210.5" cy="438.5" r="4.17"/>
<circle cx="217.5" cy="436.5" r="4.17"/>
<circle cx="223.5" cy="438.5" r="4.17"/>
<circle cx="231.5" cy="437.5" r="4.17"/>
<circle cx="241.5" cy="438.5" r="4.17"/>
<circle cx="246.5" cy="440.5" r="4.17"/>
<circle cx="192.5" cy="444.5" r="4.17"/>
<circle cx="199.5" cy="444.5" r="4.17"/>
<circle cx="208.5" cy="445.5" r="4.17"/>
<circle cx="217.5" cy="444.5" r="4.17"/>
<circle cx="226.5" cy="443.5" r="4.17"/>
<circle cx="235.5" cy="444.5" r="4.17"/>
<circle cx="243.5" cy="443.5" r="4.17"/>
<circle cx="209.5" cy="449.5" r="4.17"/>
<circle cx="218.5" cy="447.5" r="4.17"/>
<circle cx="236.5" cy="446.5" r="4.17"/>
</g>
<line x1="100.0" y1="443.5" x2="381.82" y2="443.5" stroke="#0000ff" stroke-width="1.39" stroke-dasharray="8.34 8.34"/>
<line x1="100.0" y1="440.5" x2="381.82" y2="440.5" stroke="#ff0000" stroke-width="1.39" stroke-dasharray="8.34 8.34"/>
<line x1="100.0" y1="429.5" x2="381.82" y2="429.5" stroke="#0000ff" stroke-width="1.39" stroke-dasharray="4.17 6.94 1.39 6.94"/>
<line x1="100.0" y1="452.5" x2="381.82" y2="452.5" stroke="#0000ff" stroke-width="1.39" stroke-dasharray="4.17 6.94 1.39 6.94"/>
</g>
<path d="M100.5 540.5v-5.56M138.5 540.5v-5.56M175.5 540.5v-5.56M213.5 540.5v-5.56M250.5 540.5v-5.56M288.5 540.5v-5.56M325.5 540.5v-5.56M363.5 540.5v-5.56M100.5 540.5h5.56M382.5 540.5h-5.56M100.5 420.5h5.56M382.5 420.5h-5.56M100.5 300.5h5.56M382.5 300.5h-5.56M100.5 180.5h5.56M382.5 180.5h-5.56M100.5 60.5h5.56M382.5 60.5h-5.56M115.5 60.5v5.56M152.5 60.5v5.56M190.5 60.5v5.56M227.5 60.5v5.56M265.5 60.5v5.56M302.5 60.5v5.56M340.5 60.5v5.56M378.5 60.5v5.56" stroke="#000" stroke-width="0.69" fill="none"/>
<rect x="100.5" y="60.5" width="282.0" height="480.0" fill="none" stroke="#000" stroke-width="1.75"/>
<text x="100.00" y="560.00" font-size="17.5" text-anchor="middle" textLength="35.2" lengthAdjust="spacingAndGlyphs">−20</text>
<text x="137.58" y="560.00" font-size="17.5" text-anchor="middle" textLength="35.2" lengthAdjust="spacingAndGlyphs">−18</text>
<text x="175.15" y="560.00" font-size="17.5" text-anchor="middle" textLength="35.2" lengthAdjust="spacingAndGlyphs">−16</text>
<text x="212.73" y="560.00" font-size="17.5" text-anchor="middle" textLength="35.2" lengthAdjust="spacingAndGlyphs">−14</text>
<text x="250.30" y="560.00" font-size="17.5" text-anchor="middle" textLength="35.2" lengthAdjust="spacingAndGlyphs">−12</text>
<text x="287.88" y="560.00" font-size="17.5" text-anchor="middle" textLength="35.2" lengthAdjust="spacingAndGlyphs">−10</text>
<text x="325.46" y="560.00" font-size="17.5" text-anchor="middle" textLength="24.6" lengthAdjust="spacingAndGlyphs">−8</text>
<text x="363.03" y="560.00" font-size="17.5" text-anchor="middle" textLength="24.6" lengthAdjust="spacingAndGlyphs">−6</text>
<text x="94.44" y="545.20" font-size="17.5" text-anchor="end" textLength="10.6" lengthAdjust="spacingAndGlyphs">0</text>
<text x="94.44" y="425.20" font-size="17.5" text-anchor="end" textLength="10.6" lengthAdjust="spacingAndGlyphs">5</text>
<text x="94.44" y="305.20" font-size="17.5" text-anchor="end" textLength="21.2" lengthAdjust="spacingAndGlyphs">10</text>
<text x="94.44" y="185.20" font-size="17.5" text-anchor="end" textLength="21.2" lengthAdjust="spacingAndGlyphs">15</text>
<text x="94.44" y="65.20" font-size="17.5" text-anchor="end" textLength="21.2" lengthAdjust="spacingAndGlyphs">20</text>
<text x="114.54" y="49.80" font-size="17.5" text-anchor="middle" textLength="21.2" lengthAdjust="spacingAndGlyphs">14</text>
<text x="152.12" y="49.80" font-size="17.5" text-anchor="middle" textLength="21.2" lengthAdjust="spacingAndGlyphs">16</text>
<text x="189.69" y="49.80" font-size="17.5" text-anchor="middle" textLength="21.2" lengthAdjust="spacingAndGlyphs">18</text>
<text x="227.27" y="49.80" font-size="17.5" text-anchor="middle" textLength="21.2" lengthAdjust="spacingAndGlyphs">20</text>
<text x="264.85" y="49.80" font-size="17.5" text-anchor="middle" textLength="21.2" lengthAdjust="spacingAndGlyphs">22</text>
<text x="302.42" y="49.80" font-size="17.5" text-anchor="middle" textLength="21.2" lengthAdjust="spacingAndGlyphs">24</text>
<text x="340.00" y="49.80" font-size="17.5" text-anchor="middle" textLength="21.2" lengthAdjust="spacingAndGlyphs">26</text>
<text x="377.57" y="49.80" font-size="17.5" text-anchor="middle" textLength="21.2" lengthAdjust="spacingAndGlyphs">28</text>
<text x="119.00" y="29.00" font-size="20.8" text-anchor="start" textLength="217.0" lengthAdjust="spacingAndGlyphs">FWHM vs magnitudes</text>
<text x="96.00" y="583.60" font-size="17.5" text-anchor="start" textLength="290.5" lengthAdjust="spacingAndGlyphs">magnitude (bottom:isnt / top:calib)</text>
<g transform="translate(64.4 347) rotate(-90)"><text x="0.00" y="0.00" font-size="17.5" text-anchor="start" textLength="95.0" lengthAdjust="spacingAndGlyphs">FWHM (pix)</text></g>
<rect x="438.5" y="447.5" width="3.0" height="64.0" fill="#0000ff" stroke="#000" stroke-width="1.39"/>
<rect x="438.5" y="318.5" width="6.0" height="64.0" fill="#0000ff" stroke="#000" stroke-width="1.39"/>
<rect x="438.5" y="254.5" width="216.0" height="64.0" fill="#0000ff" stroke="#000" stroke-width="1.39"/>
<rect x="438.5" y="190.5" width="144.0" height="64.0" fill="#0000ff" stroke="#000" stroke-width="1.39"/>
<rect x="438.5" y="125.5" width="63.0" height="65.0" fill="#0000ff" stroke="#000" stroke-width="1.39"/>
<rect x="438.5" y="61.5" width="22.0" height="64.0" fill="#0000ff" stroke="#000" stroke-width="1.39"/>
<line x1="438.18" y1="288.5" x2="698.08" y2="288.5" stroke="#000" stroke-width="1.39" stroke-dasharray="8.34 8.34"/>
<path d="M438.5 540.5v-5.56M438.5 60.5v5.56M469.5 540.5v-5.56M469.5 60.5v5.56M501.5 540.5v-5.56M501.5 60.5v5.56M532.5 540.5v-5.56M532.5 60.5v5.56M563.5 540.5v-5.56M563.5 60.5v5.56M595.5 540.5v-5.56M595.5 60.5v5.56M626.5 540.5v-5.56M626.5 60.5v5.56M657.5 540.5v-5.56M657.5 60.5v5.56M689.5 540.5v-5.56M689.5 60.5v5.56M720.5 540.5v-5.56M720.5 60.5v5.56M438.5 540.5h5.56M720.5 540.5h-5.56M438.5 480.5h5.56M720.5 480.5h-5.56M438.5 420.5h5.56M720.5 420.5h-5.56M438.5 360.5h5.56M720.5 360.5h-5.56M438.5 300.5h5.56M720.5 300.5h-5.56M438.5 240.5h5.56M720.5 240.5h-5.56M438.5 180.5h5.56M720.5 180.5h-5.56M438.5 120.5h5.56M720.5 120.5h-5.56M438.5 60.5h5.56M720.5 60.5h-5.56" stroke="#000" stroke-width="0.69" fill="none"/>
<rect x="438.5" y="60.5" width="282.0" height="480.0" fill="none" stroke="#000" stroke-width="1.39"/>
<text x="438.18" y="560.00" font-size="17.5" text-anchor="middle" textLength="10.6" lengthAdjust="spacingAndGlyphs">0</text>
<text x="469.49" y="560.00" font-size="17.5" text-anchor="middle" textLength="21.2" lengthAdjust="spacingAndGlyphs">10</text>
<text x="500.81" y="560.00" font-size="17.5" text-anchor="middle" textLength="21.2" lengthAdjust="spacingAndGlyphs">20</text>
<text x="532.12" y="560.00" font-size="17.5" text-anchor="middle" textLength="21.2" lengthAdjust="spacingAndGlyphs">30</text>
<text x="563.43" y="560.00" font-size="17.5" text-anchor="middle" textLength="21.2" lengthAdjust="spacingAndGlyphs">40</text>
<text x="594.75" y="560.00" font-size="17.5" text-anchor="middle" textLength="21.2" lengthAdjust="spacingAndGlyphs">50</text>
<text x="626.06" y="560.00" font-size="17.5" text-anchor="middle" textLength="21.2" lengthAdjust="spacingAndGlyphs">60</text>
<text x="657.37" y="560.00" font-size="17.5" text-anchor="middle" textLength="21.2" lengthAdjust="spacingAndGlyphs">70</text>
<text x="688.69" y="560.00" font-size="17.5" text-anchor="middle" textLength="21.2" lengthAdjust="spacingAndGlyphs">80</text>
<text x="720.00" y="560.00" font-size="17.5" text-anchor="middle" textLength="21.2" lengthAdjust="spacingAndGlyphs">90</text>
<text x="432.63" y="545.20" font-size="17.5" text-anchor="end" textLength="26.5" lengthAdjust="spacingAndGlyphs">3.2</text>
<text x="432.63" y="485.20" font-size="17.5" text-anchor="end" textLength="26.5" lengthAdjust="spacingAndGlyphs">3.4</text>
<text x="432.63" y="425.20" font-size="17.5" text-anchor="end" textLength="26.5" lengthAdjust="spacingAndGlyphs">3.6</text>
<text x="432.63" y="365.20" font-size="17.5" text-anchor="end" textLength="26.5" lengthAdjust="spacingAndGlyphs">3.8</text>
<text x="432.63" y="305.20" font-size="17.5" text-anchor="end" textLength="26.5" lengthAdjust="spacingAndGlyphs">4.0</text>
<text x="432.63" y="245.20" font-size="17.5" text-anchor="end" textLength="26.5" lengthAdjust="spacingAndGlyphs">4.2</text>
<text x="432.63" y="185.20" font-size="17.5" text-anchor="end" textLength="26.5" lengthAdjust="spacingAndGlyphs">4.4</text>
<text x="432.63" y="125.20" font-size="17.5" text-anchor="end" textLength="26.5" lengthAdjust="spacingAndGlyphs">4.6</text>
<text x="432.63" y="65.20" font-size="17.5" text-anchor="end" textLength="26.5" lengthAdjust="spacingAndGlyphs">4.8</text>
<text x="482.00" y="52.50" font-size="20.8" text-anchor="start" textLength="196.0" lengthAdjust="spacingAndGlyphs">histogram of FWHM</text>
<text x="502.00" y="584.00" font-size="17.5" text-anchor="start" textLength="154.5" lengthAdjust="spacingAndGlyphs">number of sources</text>
<g transform="translate(395.8 452) rotate(-90)"><text x="0.00" y="0.00" font-size="17.5" text-anchor="start" textLength="305.0" lengthAdjust="spacingAndGlyphs">FWHM of best-effort PSF-like sources</text></g>
<rect x="27.5" y="70.5" width="345.0" height="180.0" fill="#fff" stroke="#000" stroke-width="1.39"/>
<g stroke="#00bfbf" stroke-width="0.7" fill="none">
<path d="M37.33 86.5h8.34M41.5 82.33v8.34"/>
<path d="M65.33 86.5h8.34M69.5 82.33v8.34"/>
</g><g stroke="#0000ff" stroke-width="1.1" fill="none">
<path d="M37.33 111.33l8.34 8.34M37.33 119.67l8.34 -8.34"/>
<path d="M65.33 111.33l8.34 8.34M65.33 119.67l8.34 -8.34"/>
</g>
<circle cx="41.5" cy="144.5" r="4.17" fill="#bf00bf" stroke="#000" stroke-width="0.7"/>
<circle cx="69.5" cy="144.5" r="4.17" fill="#bf00bf" stroke="#000" stroke-width="0.7"/>
<line x1="41.5" y1="173.5" x2="69.5" y2="173.5" stroke="#0000ff" stroke-width="1.39" stroke-dasharray="8.34 8.34"/>
<line x1="41.5" y1="202.5" x2="69.5" y2="202.5" stroke="#ff0000" stroke-width="1.39" stroke-dasharray="8.34 8.34"/>
<line x1="41.5" y1="231.5" x2="69.5" y2="231.5" stroke="#0000ff" stroke-width="1.39" stroke-dasharray="4.17 6.94 1.39 6.94"/>
<text x="90.94" y="93.30" font-size="20.8" text-anchor="start" textLength="102.8" lengthAdjust="spacingAndGlyphs">all sample</text>
<text x="90.94" y="122.30" font-size="20.8" text-anchor="start" textLength="242.0" lengthAdjust="spacingAndGlyphs">sample for rough FWHM</text>
<text x="90.94" y="151.30" font-size="20.8" text-anchor="start" textLength="269.2" lengthAdjust="spacingAndGlyphs">best-effort PSF-like sample</text>
<text x="90.94" y="180.30" font-size="20.8" text-anchor="start" textLength="217.4" lengthAdjust="spacingAndGlyphs">resultant FWHM: 4.04</text>
<text x="90.94" y="209.30" font-size="20.8" text-anchor="start" textLength="274.4" lengthAdjust="spacingAndGlyphs">median FHWM of sequence</text>
<text x="90.94" y="238.30" font-size="20.8" text-anchor="start" textLength="125.6" lengthAdjust="spacingAndGlyphs">sigma range</text>
</svg></body></html>
